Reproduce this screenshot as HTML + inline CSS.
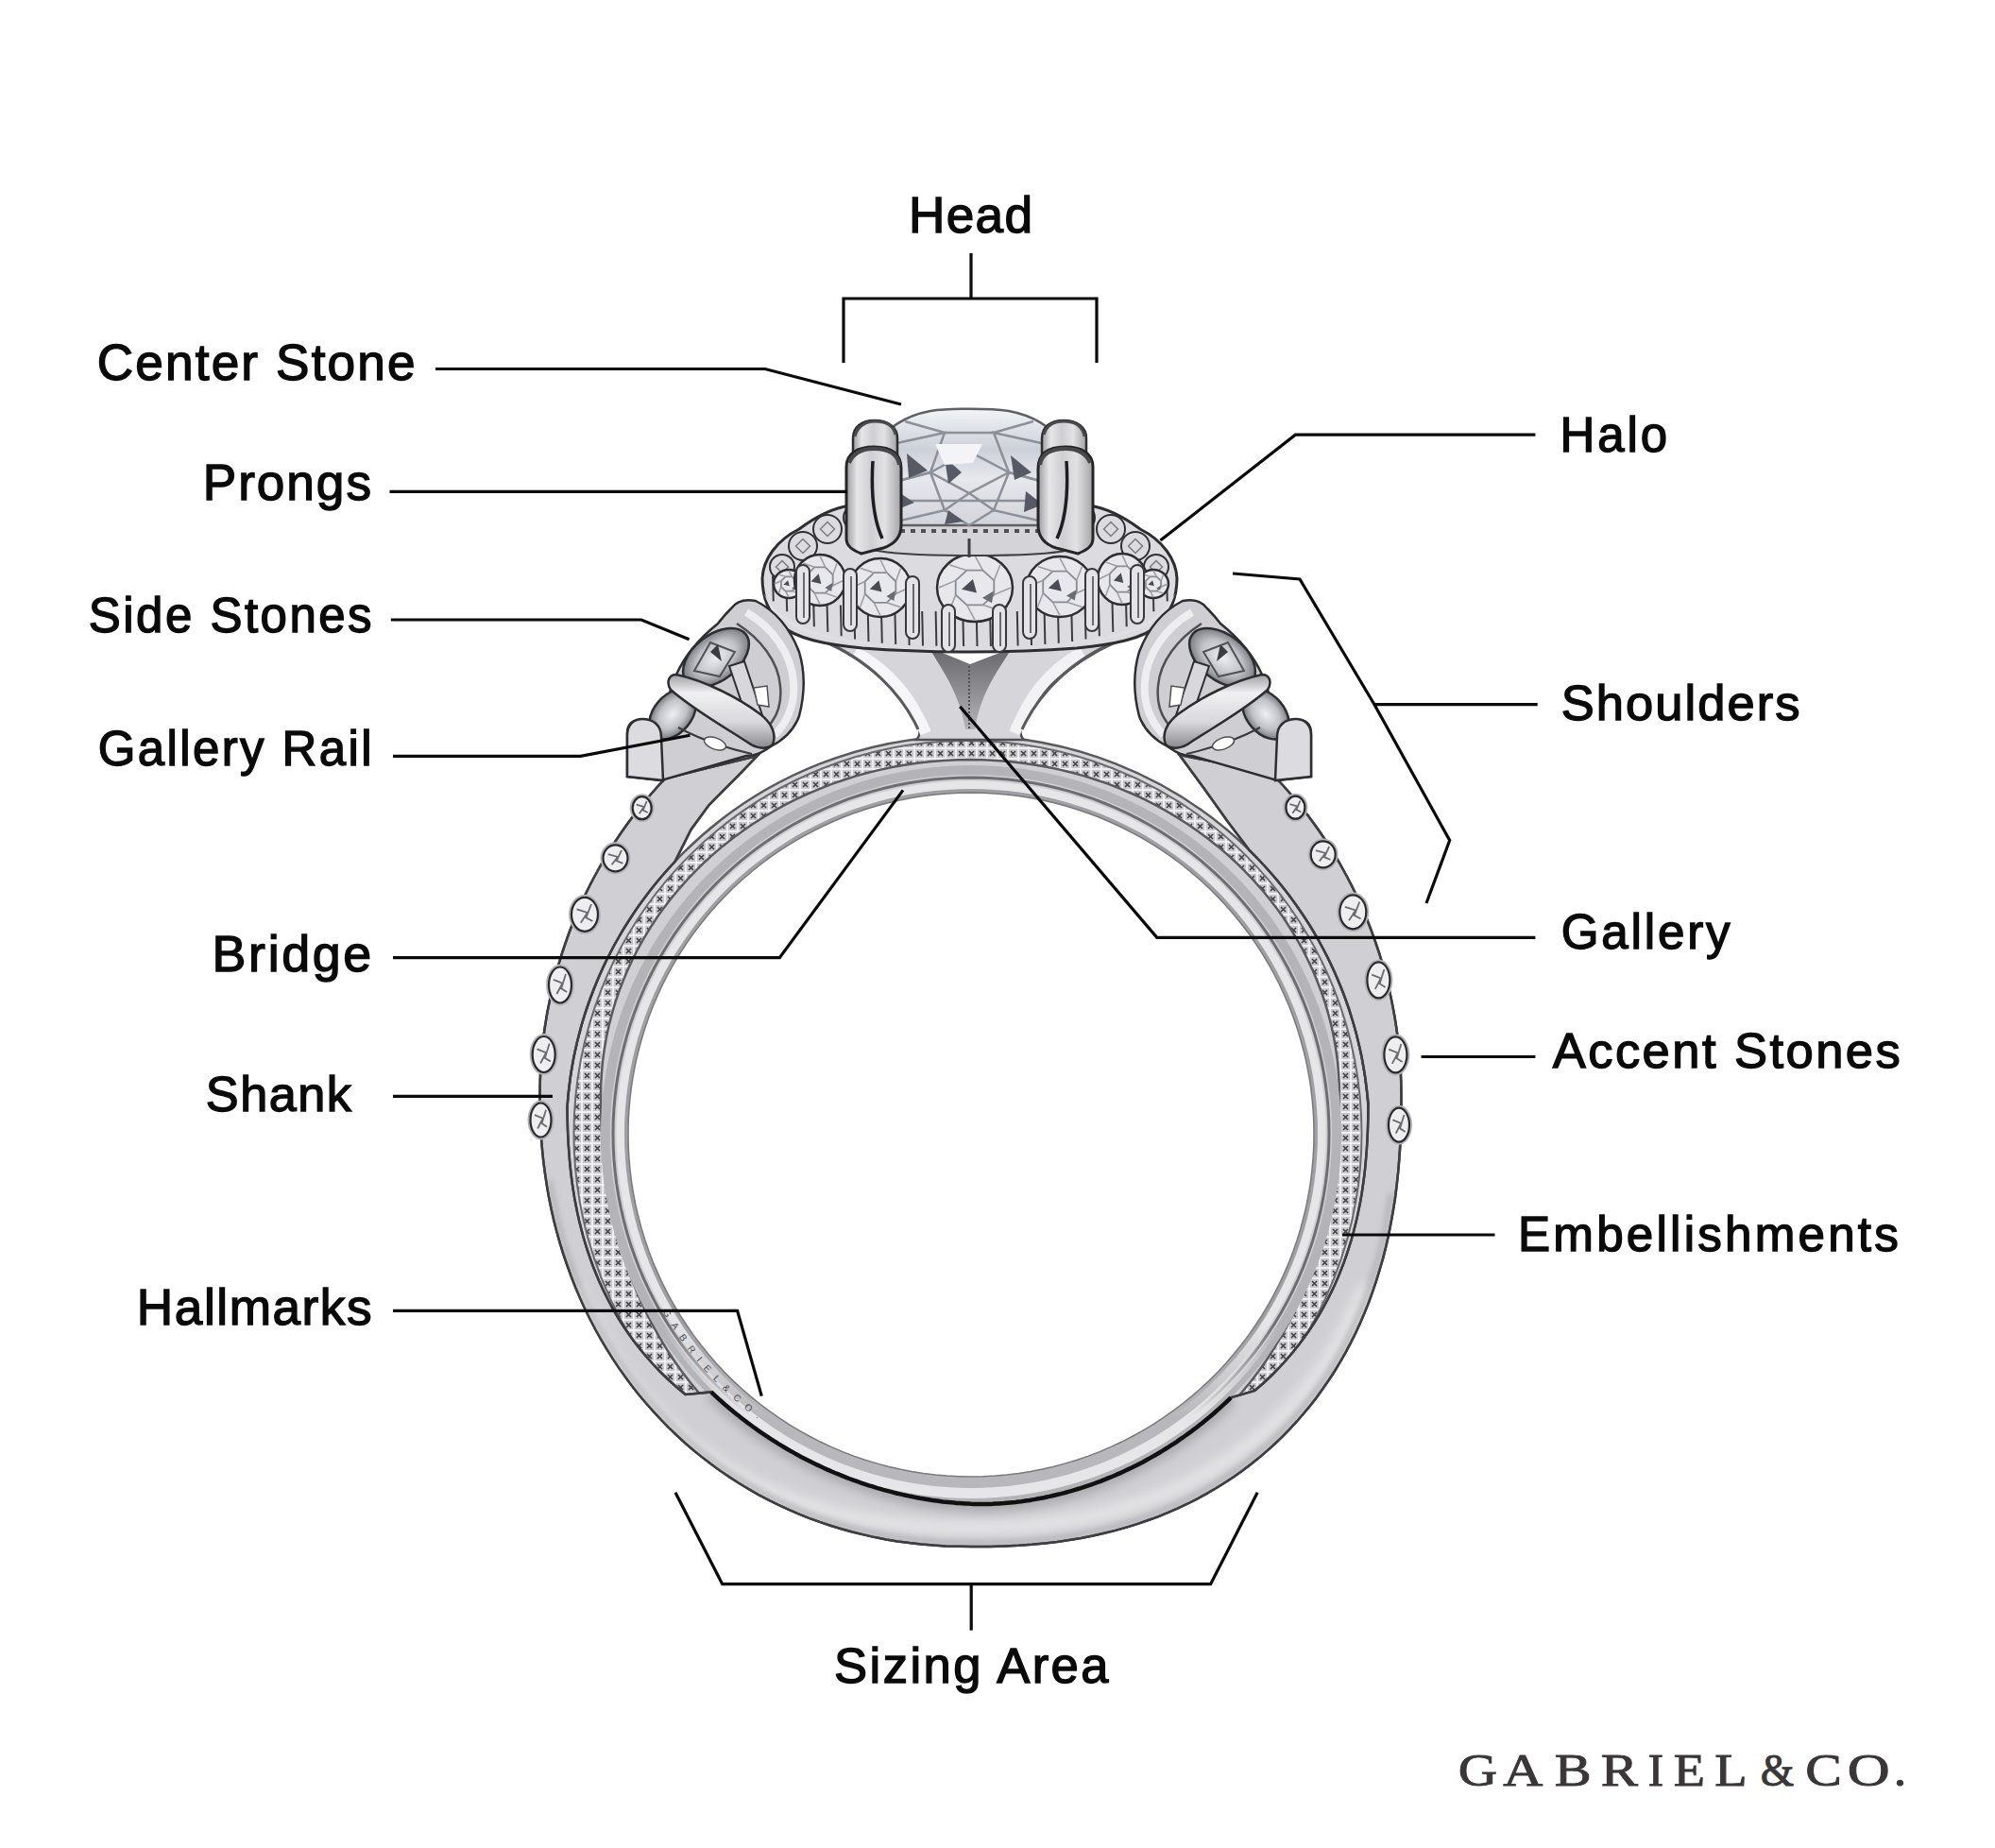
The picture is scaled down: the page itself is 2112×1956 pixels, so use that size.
<!DOCTYPE html><html><head><meta charset="utf-8"><style>html,body{margin:0;padding:0;background:#fff;}svg{display:block}.lab text{font-family:"Liberation Sans",sans-serif;} text.logo{font-family:"Liberation Serif",serif;}</style></head><body>
<svg width="2112" height="1956" viewBox="0 0 2112 1956">
<g id="ring"><defs>
<pattern id="milg" width="11" height="11" patternUnits="userSpaceOnUse"><rect width="11" height="11" fill="#e8e8ea"/><rect x="1" y="1" width="9" height="9" fill="#c8c8cc"/><path d="M3 3 L8 8 M8 3 L3 8" stroke="#3e3e42" stroke-width="1.5"/><rect x="0" y="0" width="11" height="11" fill="none" stroke="#f4f4f6" stroke-width="1"/></pattern>
<radialGradient id="gStone" cx="0.5" cy="0.45" r="0.6"><stop offset="0" stop-color="#f6f6f8"/><stop offset="0.55" stop-color="#d4d6dc"/><stop offset="1" stop-color="#707278"/></radialGradient>
<filter id="blur6" x="-20%" y="-20%" width="140%" height="140%"><feGaussianBlur stdDeviation="6"/></filter>
<filter id="blur3" x="-20%" y="-20%" width="140%" height="140%"><feGaussianBlur stdDeviation="3"/></filter>
</defs>
<path d="M599.5 1200.0 a425.0 421.0 0 1 0 850.0 0 a425.0 421.0 0 1 0 -850.0 0 Z" fill="#d6d6da" stroke="#5a5a5e" stroke-width="2.5"/>
<path d="M607.5 1200.0 a417.0 416.0 0 1 0 834.0 0 a417.0 416.0 0 1 0 -834.0 0 Z" fill="url(#milg)" stroke="#6a6a6e" stroke-width="2"/>
<path d="M636.0 1160.0 L636.2 1147.6 L637.0 1135.2 L638.1 1122.8 L639.8 1110.5 L641.9 1098.2 L644.5 1086.0 L647.6 1073.9 L651.1 1061.9 L655.1 1050.0 L659.6 1038.2 L664.5 1026.6 L669.8 1015.2 L675.6 1003.9 L681.8 992.9 L688.4 982.0 L695.4 971.3 L702.8 960.9 L710.7 950.7 L718.9 940.8 L727.5 931.2 L736.4 921.8 L745.7 912.7 L755.4 903.9 L765.4 895.4 L775.7 887.3 L786.3 879.5 L797.2 872.0 L808.4 864.9 L819.8 858.1 L831.5 851.7 L843.4 845.7 L855.6 840.0 L868.0 834.8 L880.5 829.9 L893.3 825.5 L906.2 821.4 L919.2 817.8 L932.4 814.6 L945.7 811.8 L959.1 809.4 L972.6 807.5 L986.1 806.0 L999.7 804.9 L1013.4 804.2 L1027.0 804.0 L1040.6 804.2 L1054.3 804.9 L1067.9 806.0 L1081.4 807.5 L1094.9 809.4 L1108.3 811.8 L1121.6 814.6 L1134.8 817.8 L1147.8 821.4 L1160.7 825.5 L1173.5 829.9 L1186.0 834.8 L1198.4 840.0 L1210.6 845.7 L1222.5 851.7 L1234.2 858.1 L1245.6 864.9 L1256.8 872.0 L1267.7 879.5 L1278.3 887.3 L1288.6 895.4 L1298.6 903.9 L1308.3 912.7 L1317.6 921.8 L1326.5 931.2 L1335.1 940.8 L1343.3 950.7 L1351.2 960.9 L1358.6 971.3 L1365.6 982.0 L1372.2 992.9 L1378.4 1003.9 L1384.2 1015.2 L1389.5 1026.6 L1394.4 1038.2 L1398.9 1050.0 L1402.9 1061.9 L1406.4 1073.9 L1409.5 1086.0 L1412.1 1098.2 L1414.2 1110.5 L1415.9 1122.8 L1417.0 1135.2 L1417.8 1147.6 L1418.0 1160.0 L1418.0 1160.0 L1417.8 1179.4 L1417.1 1197.0 L1416.0 1213.8 L1414.5 1230.3 L1412.5 1246.3 L1410.0 1262.1 L1407.2 1277.5 L1403.9 1292.7 L1400.2 1307.6 L1396.0 1322.2 L1391.4 1336.5 L1386.5 1350.6 L1381.1 1364.3 L1375.2 1377.8 L1369.0 1390.9 L1362.4 1403.7 L1355.4 1416.2 L1348.0 1428.4 L1340.3 1440.2 L1332.1 1451.7 L1323.7 1462.8 L1314.8 1473.5 L1305.6 1483.9 L1296.1 1493.8 L1286.2 1503.4 L1276.0 1512.5 L1265.5 1521.3 L1254.7 1529.6 L1243.6 1537.5 L1232.2 1544.9 L1220.5 1551.9 L1208.6 1558.4 L1196.3 1564.5 L1183.9 1570.1 L1171.1 1575.3 L1158.1 1579.9 L1144.9 1584.1 L1131.4 1587.8 L1117.7 1591.0 L1103.7 1593.8 L1089.4 1596.0 L1074.8 1597.8 L1059.8 1599.0 L1044.2 1599.8 L1027.0 1600.0 L1009.8 1599.8 L994.2 1599.0 L979.2 1597.8 L964.6 1596.0 L950.3 1593.8 L936.3 1591.0 L922.6 1587.8 L909.1 1584.1 L895.9 1579.9 L882.9 1575.3 L870.1 1570.1 L857.7 1564.5 L845.4 1558.4 L833.5 1551.9 L821.8 1544.9 L810.4 1537.5 L799.3 1529.6 L788.5 1521.3 L778.0 1512.5 L767.8 1503.4 L757.9 1493.8 L748.4 1483.9 L739.2 1473.5 L730.3 1462.8 L721.9 1451.7 L713.7 1440.2 L706.0 1428.4 L698.6 1416.2 L691.6 1403.7 L685.0 1390.9 L678.8 1377.8 L672.9 1364.3 L667.5 1350.6 L662.6 1336.5 L658.0 1322.2 L653.8 1307.6 L650.1 1292.7 L646.8 1277.5 L644.0 1262.1 L641.5 1246.3 L639.5 1230.3 L638.0 1213.8 L636.9 1197.0 L636.2 1179.4 L636.0 1160.0 Z" fill="#d0d0d4" stroke="#5a5a5e" stroke-width="2.5"/>
<path d="M641.0 1200.0 L641.2 1186.6 L641.9 1173.1 L643.1 1159.8 L644.8 1146.4 L646.9 1133.1 L649.5 1120.0 L652.5 1106.9 L656.0 1093.9 L659.9 1081.0 L664.3 1068.3 L669.2 1055.8 L674.5 1043.4 L680.2 1031.2 L686.3 1019.3 L692.8 1007.5 L699.8 996.0 L707.2 984.7 L714.9 973.7 L723.0 963.0 L731.5 952.5 L740.4 942.4 L749.6 932.6 L759.2 923.1 L769.0 913.9 L779.2 905.1 L789.7 896.6 L800.5 888.5 L811.6 880.8 L822.9 873.5 L834.5 866.6 L846.3 860.1 L858.4 854.0 L870.6 848.3 L883.0 843.0 L895.6 838.2 L908.4 833.8 L921.3 829.9 L934.4 826.4 L947.5 823.4 L960.8 820.8 L974.1 818.7 L987.5 817.1 L1001.0 815.9 L1014.5 815.2 L1028.0 815.0 L1041.5 815.2 L1055.0 815.9 L1068.5 817.1 L1081.9 818.7 L1095.2 820.8 L1108.5 823.4 L1121.6 826.4 L1134.7 829.9 L1147.6 833.8 L1160.4 838.2 L1173.0 843.0 L1185.4 848.3 L1197.6 854.0 L1209.7 860.1 L1221.5 866.6 L1233.1 873.5 L1244.4 880.8 L1255.5 888.5 L1266.3 896.6 L1276.8 905.1 L1287.0 913.9 L1296.8 923.1 L1306.4 932.6 L1315.6 942.4 L1324.5 952.5 L1333.0 963.0 L1341.1 973.7 L1348.8 984.7 L1356.2 996.0 L1363.2 1007.5 L1369.7 1019.3 L1375.8 1031.2 L1381.5 1043.4 L1386.8 1055.8 L1391.7 1068.3 L1396.1 1081.0 L1400.0 1093.9 L1403.5 1106.9 L1406.5 1120.0 L1409.1 1133.1 L1411.2 1146.4 L1412.9 1159.8 L1414.1 1173.1 L1414.8 1186.6 L1415.0 1200.0 L1414.8 1213.5 L1414.1 1227.0 L1412.9 1240.5 L1411.2 1253.9 L1409.1 1267.2 L1406.5 1280.5 L1403.5 1293.6 L1400.0 1306.7 L1396.1 1319.6 L1391.7 1332.4 L1386.8 1345.0 L1381.5 1357.4 L1375.8 1369.6 L1369.7 1381.7 L1363.2 1393.5 L1356.2 1405.1 L1348.8 1416.4 L1341.1 1427.5 L1333.0 1438.3 L1324.5 1448.8 L1315.6 1459.0 L1306.4 1468.8 L1296.8 1478.4 L1287.0 1487.6 L1276.8 1496.5 L1266.3 1505.0 L1255.5 1513.1 L1244.4 1520.8 L1233.1 1528.2 L1221.5 1535.2 L1209.7 1541.7 L1197.6 1547.8 L1185.4 1553.5 L1173.0 1558.8 L1160.4 1563.7 L1147.6 1568.1 L1134.7 1572.0 L1121.6 1575.5 L1108.5 1578.5 L1095.2 1581.1 L1081.9 1583.2 L1068.5 1584.9 L1055.0 1586.1 L1041.5 1586.8 L1028.0 1587.0 L1014.5 1586.8 L1001.0 1586.1 L987.5 1584.9 L974.1 1583.2 L960.8 1581.1 L947.5 1578.5 L934.4 1575.5 L921.3 1572.0 L908.4 1568.1 L895.6 1563.7 L883.0 1558.8 L870.6 1553.5 L858.4 1547.8 L846.3 1541.7 L834.5 1535.2 L822.9 1528.2 L811.6 1520.8 L800.5 1513.1 L789.7 1505.0 L779.2 1496.5 L769.0 1487.6 L759.2 1478.4 L749.6 1468.8 L740.4 1459.0 L731.5 1448.8 L723.0 1438.3 L714.9 1427.5 L707.2 1416.4 L699.8 1405.1 L692.8 1393.5 L686.3 1381.7 L680.2 1369.6 L674.5 1357.4 L669.2 1345.0 L664.3 1332.4 L659.9 1319.6 L656.0 1306.7 L652.5 1293.6 L649.5 1280.5 L646.9 1267.2 L644.8 1253.9 L643.1 1240.5 L641.9 1227.0 L641.2 1213.5 Z" fill="none" stroke="#b4b4b8" stroke-width="10"/>
<path d="M649.0 1200.0 L649.2 1186.8 L649.9 1173.7 L651.1 1160.6 L652.7 1147.5 L654.8 1134.5 L657.3 1121.6 L660.3 1108.8 L663.7 1096.1 L667.5 1083.5 L671.9 1071.1 L676.6 1058.8 L681.8 1046.7 L687.4 1034.7 L693.4 1023.0 L699.8 1011.5 L706.6 1000.2 L713.8 989.2 L721.4 978.4 L729.3 967.9 L737.7 957.7 L746.3 947.7 L755.4 938.1 L764.7 928.8 L774.4 919.8 L784.4 911.2 L794.7 902.9 L805.2 895.0 L816.1 887.5 L827.2 880.3 L838.5 873.5 L850.1 867.1 L861.9 861.2 L873.8 855.6 L886.0 850.5 L898.4 845.7 L910.9 841.5 L923.5 837.6 L936.3 834.2 L949.2 831.2 L962.2 828.7 L975.3 826.7 L988.4 825.1 L1001.6 823.9 L1014.8 823.2 L1028.0 823.0 L1041.2 823.2 L1054.4 823.9 L1067.6 825.1 L1080.7 826.7 L1093.8 828.7 L1106.8 831.2 L1119.7 834.2 L1132.5 837.6 L1145.1 841.5 L1157.6 845.7 L1170.0 850.5 L1182.2 855.6 L1194.1 861.2 L1205.9 867.1 L1217.5 873.5 L1228.8 880.3 L1239.9 887.5 L1250.8 895.0 L1261.3 902.9 L1271.6 911.2 L1281.6 919.8 L1291.3 928.8 L1300.6 938.1 L1309.7 947.7 L1318.3 957.7 L1326.7 967.9 L1334.6 978.4 L1342.2 989.2 L1349.4 1000.2 L1356.2 1011.5 L1362.6 1023.0 L1368.6 1034.7 L1374.2 1046.7 L1379.4 1058.8 L1384.1 1071.1 L1388.5 1083.5 L1392.3 1096.1 L1395.7 1108.8 L1398.7 1121.6 L1401.2 1134.5 L1403.3 1147.5 L1404.9 1160.6 L1406.1 1173.7 L1406.8 1186.8 L1407.0 1200.0 L1406.8 1213.2 L1406.1 1226.4 L1404.9 1239.6 L1403.3 1252.7 L1401.2 1265.8 L1398.7 1278.8 L1395.7 1291.7 L1392.3 1304.5 L1388.5 1317.1 L1384.1 1329.6 L1379.4 1342.0 L1374.2 1354.2 L1368.6 1366.1 L1362.6 1377.9 L1356.2 1389.5 L1349.4 1400.8 L1342.2 1411.9 L1334.6 1422.8 L1326.7 1433.3 L1318.3 1443.6 L1309.7 1453.6 L1300.6 1463.3 L1291.3 1472.6 L1281.6 1481.7 L1271.6 1490.3 L1261.3 1498.7 L1250.8 1506.6 L1239.9 1514.2 L1228.8 1521.4 L1217.5 1528.2 L1205.9 1534.6 L1194.1 1540.6 L1182.2 1546.2 L1170.0 1551.4 L1157.6 1556.1 L1145.1 1560.5 L1132.5 1564.3 L1119.7 1567.7 L1106.8 1570.7 L1093.8 1573.2 L1080.7 1575.3 L1067.6 1576.9 L1054.4 1578.1 L1041.2 1578.8 L1028.0 1579.0 L1014.8 1578.8 L1001.6 1578.1 L988.4 1576.9 L975.3 1575.3 L962.2 1573.2 L949.2 1570.7 L936.3 1567.7 L923.5 1564.3 L910.9 1560.5 L898.4 1556.1 L886.0 1551.4 L873.8 1546.2 L861.9 1540.6 L850.1 1534.6 L838.5 1528.2 L827.2 1521.4 L816.1 1514.2 L805.2 1506.6 L794.7 1498.7 L784.4 1490.3 L774.4 1481.7 L764.7 1472.6 L755.4 1463.3 L746.3 1453.6 L737.7 1443.6 L729.3 1433.3 L721.4 1422.8 L713.8 1411.9 L706.6 1400.8 L699.8 1389.5 L693.4 1377.9 L687.4 1366.1 L681.8 1354.2 L676.6 1342.0 L671.9 1329.6 L667.5 1317.1 L663.7 1304.5 L660.3 1291.7 L657.3 1278.8 L654.8 1265.8 L652.7 1252.7 L651.1 1239.6 L649.9 1226.4 L649.2 1213.2 Z" fill="none" stroke="#6e6e72" stroke-width="3"/>
<path d="M657.0 1200.0 L657.2 1187.1 L657.9 1174.3 L659.0 1161.4 L660.6 1148.6 L662.6 1135.9 L665.1 1123.3 L668.0 1110.7 L671.4 1098.3 L675.2 1086.0 L679.4 1073.8 L684.0 1061.8 L689.1 1049.9 L694.5 1038.2 L700.4 1026.8 L706.7 1015.5 L713.4 1004.5 L720.4 993.7 L727.9 983.1 L735.6 972.8 L743.8 962.8 L752.3 953.1 L761.1 943.7 L770.3 934.6 L779.8 925.8 L789.5 917.3 L799.6 909.2 L809.9 901.5 L820.5 894.1 L831.4 887.1 L842.5 880.4 L853.8 874.2 L865.4 868.3 L877.1 862.9 L889.0 857.9 L901.1 853.3 L913.4 849.1 L925.7 845.3 L938.2 842.0 L950.9 839.1 L963.6 836.6 L976.4 834.6 L989.2 833.0 L1002.1 831.9 L1015.1 831.2 L1028.0 831.0 L1040.9 831.2 L1053.9 831.9 L1066.8 833.0 L1079.6 834.6 L1092.4 836.6 L1105.1 839.1 L1117.8 842.0 L1130.3 845.3 L1142.6 849.1 L1154.9 853.3 L1167.0 857.9 L1178.9 862.9 L1190.6 868.3 L1202.2 874.2 L1213.5 880.4 L1224.6 887.1 L1235.5 894.1 L1246.1 901.5 L1256.4 909.2 L1266.5 917.3 L1276.2 925.8 L1285.7 934.6 L1294.9 943.7 L1303.7 953.1 L1312.2 962.8 L1320.4 972.8 L1328.1 983.1 L1335.6 993.7 L1342.6 1004.5 L1349.3 1015.5 L1355.6 1026.8 L1361.5 1038.2 L1366.9 1049.9 L1372.0 1061.8 L1376.6 1073.8 L1380.8 1086.0 L1384.6 1098.3 L1388.0 1110.7 L1390.9 1123.3 L1393.4 1135.9 L1395.4 1148.6 L1397.0 1161.4 L1398.1 1174.3 L1398.8 1187.1 L1399.0 1200.0 L1398.8 1212.9 L1398.1 1225.9 L1397.0 1238.8 L1395.4 1251.6 L1393.4 1264.4 L1390.9 1277.1 L1388.0 1289.8 L1384.6 1302.3 L1380.8 1314.6 L1376.6 1326.9 L1372.0 1339.0 L1366.9 1350.9 L1361.5 1362.6 L1355.6 1374.2 L1349.3 1385.5 L1342.6 1396.6 L1335.6 1407.5 L1328.1 1418.1 L1320.4 1428.4 L1312.2 1438.5 L1303.7 1448.2 L1294.9 1457.7 L1285.7 1466.9 L1276.2 1475.7 L1266.5 1484.2 L1256.4 1492.4 L1246.1 1500.1 L1235.5 1507.6 L1224.6 1514.6 L1213.5 1521.3 L1202.2 1527.6 L1190.6 1533.5 L1178.9 1538.9 L1167.0 1544.0 L1154.9 1548.6 L1142.6 1552.8 L1130.3 1556.6 L1117.8 1560.0 L1105.1 1562.9 L1092.4 1565.4 L1079.6 1567.4 L1066.8 1569.0 L1053.9 1570.1 L1040.9 1570.8 L1028.0 1571.0 L1015.1 1570.8 L1002.1 1570.1 L989.2 1569.0 L976.4 1567.4 L963.6 1565.4 L950.9 1562.9 L938.2 1560.0 L925.7 1556.6 L913.4 1552.8 L901.1 1548.6 L889.0 1544.0 L877.1 1538.9 L865.4 1533.5 L853.8 1527.6 L842.5 1521.3 L831.4 1514.6 L820.5 1507.6 L809.9 1500.1 L799.6 1492.4 L789.5 1484.2 L779.8 1475.7 L770.3 1466.9 L761.1 1457.7 L752.3 1448.2 L743.8 1438.5 L735.6 1428.4 L727.9 1418.1 L720.4 1407.5 L713.4 1396.6 L706.7 1385.5 L700.4 1374.2 L694.5 1362.6 L689.1 1350.9 L684.0 1339.0 L679.4 1326.9 L675.2 1314.6 L671.4 1302.3 L668.0 1289.8 L665.1 1277.1 L662.6 1264.4 L660.6 1251.6 L659.0 1238.8 L657.9 1225.9 L657.2 1212.9 Z" fill="none" stroke="#e6e6e8" stroke-width="9"/>
<path d="M663.0 1200.0 L663.2 1187.3 L663.9 1174.7 L665.0 1162.1 L666.6 1149.5 L668.5 1137.0 L671.0 1124.5 L673.8 1112.2 L677.1 1099.9 L680.9 1087.8 L685.0 1075.8 L689.6 1064.0 L694.6 1052.4 L699.9 1040.9 L705.7 1029.6 L711.9 1018.5 L718.5 1007.6 L725.4 997.0 L732.7 986.6 L740.4 976.5 L748.4 966.7 L756.8 957.1 L765.4 947.8 L774.4 938.9 L783.8 930.2 L793.4 921.9 L803.3 914.0 L813.5 906.3 L823.9 899.1 L834.6 892.2 L845.5 885.6 L856.6 879.5 L868.0 873.7 L879.5 868.4 L891.3 863.4 L903.2 858.9 L915.2 854.8 L927.4 851.1 L939.7 847.8 L952.1 844.9 L964.6 842.5 L977.2 840.5 L989.8 839.0 L1002.5 837.9 L1015.3 837.2 L1028.0 837.0 L1040.7 837.2 L1053.5 837.9 L1066.2 839.0 L1078.8 840.5 L1091.4 842.5 L1103.9 844.9 L1116.3 847.8 L1128.6 851.1 L1140.8 854.8 L1152.8 858.9 L1164.7 863.4 L1176.5 868.4 L1188.0 873.7 L1199.4 879.5 L1210.5 885.6 L1221.4 892.2 L1232.1 899.1 L1242.5 906.3 L1252.7 914.0 L1262.6 921.9 L1272.2 930.2 L1281.6 938.9 L1290.6 947.8 L1299.2 957.1 L1307.6 966.7 L1315.6 976.5 L1323.3 986.6 L1330.6 997.0 L1337.5 1007.6 L1344.1 1018.5 L1350.3 1029.6 L1356.1 1040.9 L1361.4 1052.4 L1366.4 1064.0 L1371.0 1075.8 L1375.1 1087.8 L1378.9 1099.9 L1382.2 1112.2 L1385.0 1124.5 L1387.5 1137.0 L1389.4 1149.5 L1391.0 1162.1 L1392.1 1174.7 L1392.8 1187.3 L1393.0 1200.0 L1392.8 1212.7 L1392.1 1225.5 L1391.0 1238.2 L1389.4 1250.8 L1387.5 1263.4 L1385.0 1275.9 L1382.2 1288.3 L1378.9 1300.6 L1375.1 1312.8 L1371.0 1324.8 L1366.4 1336.7 L1361.4 1348.5 L1356.1 1360.0 L1350.3 1371.4 L1344.1 1382.5 L1337.5 1393.4 L1330.6 1404.1 L1323.3 1414.5 L1315.6 1424.7 L1307.6 1434.6 L1299.2 1444.2 L1290.6 1453.6 L1281.6 1462.6 L1272.2 1471.2 L1262.6 1479.6 L1252.7 1487.6 L1242.5 1495.3 L1232.1 1502.6 L1221.4 1509.5 L1210.5 1516.1 L1199.4 1522.3 L1188.0 1528.1 L1176.5 1533.4 L1164.7 1538.4 L1152.8 1543.0 L1140.8 1547.1 L1128.6 1550.9 L1116.3 1554.2 L1103.9 1557.0 L1091.4 1559.5 L1078.8 1561.4 L1066.2 1563.0 L1053.5 1564.1 L1040.7 1564.8 L1028.0 1565.0 L1015.3 1564.8 L1002.5 1564.1 L989.8 1563.0 L977.2 1561.4 L964.6 1559.5 L952.1 1557.0 L939.7 1554.2 L927.4 1550.9 L915.2 1547.1 L903.2 1543.0 L891.3 1538.4 L879.5 1533.4 L868.0 1528.1 L856.6 1522.3 L845.5 1516.1 L834.6 1509.5 L823.9 1502.6 L813.5 1495.3 L803.3 1487.6 L793.4 1479.6 L783.8 1471.2 L774.4 1462.6 L765.4 1453.6 L756.8 1444.2 L748.4 1434.6 L740.4 1424.7 L732.7 1414.5 L725.4 1404.1 L718.5 1393.4 L711.9 1382.5 L705.7 1371.4 L699.9 1360.0 L694.6 1348.5 L689.6 1336.7 L685.0 1324.8 L680.9 1312.8 L677.1 1300.6 L673.8 1288.3 L671.0 1275.9 L668.5 1263.4 L666.6 1250.8 L665.0 1238.2 L663.9 1225.5 L663.2 1212.7 Z" fill="none" stroke="#a0a0a4" stroke-width="4"/>
<linearGradient id="gBotM" x1="0" y1="1400" x2="0" y2="1500" gradientUnits="userSpaceOnUse"><stop offset="0" stop-color="#000"/><stop offset="1" stop-color="#fff"/></linearGradient>
<mask id="mBot" maskUnits="userSpaceOnUse" x="0" y="0" width="2112" height="1956"><rect x="0" y="1380" width="2112" height="400" fill="url(#gBotM)"/></mask>
<g mask="url(#mBot)">
<path d="M648.0 1200.0 L648.2 1186.8 L648.9 1173.6 L650.1 1160.5 L651.7 1147.4 L653.8 1134.4 L656.3 1121.4 L659.3 1108.6 L662.7 1095.8 L666.6 1083.2 L670.9 1070.7 L675.7 1058.4 L680.9 1046.3 L686.5 1034.3 L692.5 1022.5 L698.9 1011.0 L705.7 999.7 L713.0 988.6 L720.6 977.8 L728.6 967.3 L736.9 957.0 L745.6 947.1 L754.7 937.4 L764.0 928.1 L773.7 919.1 L783.7 910.4 L794.0 902.1 L804.6 894.2 L815.5 886.6 L826.6 879.4 L838.0 872.6 L849.6 866.2 L861.4 860.3 L873.4 854.7 L885.6 849.5 L898.0 844.8 L910.6 840.5 L923.3 836.6 L936.1 833.2 L949.0 830.3 L962.0 827.7 L975.1 825.7 L988.3 824.1 L1001.5 822.9 L1014.7 822.2 L1028.0 822.0 L1041.3 822.2 L1054.5 822.9 L1067.7 824.1 L1080.9 825.7 L1094.0 827.7 L1107.0 830.3 L1119.9 833.2 L1132.7 836.6 L1145.4 840.5 L1158.0 844.8 L1170.4 849.5 L1182.6 854.7 L1194.6 860.3 L1206.4 866.2 L1218.0 872.6 L1229.4 879.4 L1240.5 886.6 L1251.4 894.2 L1262.0 902.1 L1272.3 910.4 L1282.3 919.1 L1292.0 928.1 L1301.3 937.4 L1310.4 947.1 L1319.1 957.0 L1327.4 967.3 L1335.4 977.8 L1343.0 988.6 L1350.3 999.7 L1357.1 1011.0 L1363.5 1022.5 L1369.5 1034.3 L1375.1 1046.3 L1380.3 1058.4 L1385.1 1070.7 L1389.4 1083.2 L1393.3 1095.8 L1396.7 1108.6 L1399.7 1121.4 L1402.2 1134.4 L1404.3 1147.4 L1405.9 1160.5 L1407.1 1173.6 L1407.8 1186.8 L1408.0 1200.0 L1407.8 1213.3 L1407.1 1226.5 L1405.9 1239.7 L1404.3 1252.9 L1402.2 1266.0 L1399.7 1279.0 L1396.7 1291.9 L1393.3 1304.7 L1389.4 1317.4 L1385.1 1330.0 L1380.3 1342.4 L1375.1 1354.6 L1369.5 1366.6 L1363.5 1378.4 L1357.1 1390.0 L1350.3 1401.4 L1343.0 1412.5 L1335.4 1423.4 L1327.4 1434.0 L1319.1 1444.3 L1310.4 1454.3 L1301.3 1464.0 L1292.0 1473.3 L1282.3 1482.4 L1272.3 1491.1 L1262.0 1499.4 L1251.4 1507.4 L1240.5 1515.0 L1229.4 1522.3 L1218.0 1529.1 L1206.4 1535.5 L1194.6 1541.5 L1182.6 1547.1 L1170.4 1552.3 L1158.0 1557.1 L1145.4 1561.4 L1132.7 1565.3 L1119.9 1568.7 L1107.0 1571.7 L1094.0 1574.2 L1080.9 1576.3 L1067.7 1577.9 L1054.5 1579.1 L1041.3 1579.8 L1028.0 1580.0 L1014.7 1579.8 L1001.5 1579.1 L988.3 1577.9 L975.1 1576.3 L962.0 1574.2 L949.0 1571.7 L936.1 1568.7 L923.3 1565.3 L910.6 1561.4 L898.0 1557.1 L885.6 1552.3 L873.4 1547.1 L861.4 1541.5 L849.6 1535.5 L838.0 1529.1 L826.6 1522.3 L815.5 1515.0 L804.6 1507.4 L794.0 1499.4 L783.7 1491.1 L773.7 1482.4 L764.0 1473.3 L754.7 1464.0 L745.6 1454.3 L736.9 1444.3 L728.6 1434.0 L720.6 1423.4 L713.0 1412.5 L705.7 1401.4 L698.9 1390.0 L692.5 1378.4 L686.5 1366.6 L680.9 1354.6 L675.7 1342.4 L670.9 1330.0 L666.6 1317.4 L662.7 1304.7 L659.3 1291.9 L656.3 1279.0 L653.8 1266.0 L651.7 1252.9 L650.1 1239.7 L648.9 1226.5 L648.2 1213.3 Z" fill="none" stroke="#e6e6e8" stroke-width="12"/>
<path d="M659.0 1200.0 L659.2 1187.2 L659.9 1174.4 L661.0 1161.6 L662.6 1148.9 L664.6 1136.3 L667.1 1123.7 L670.0 1111.2 L673.3 1098.8 L677.1 1086.6 L681.3 1074.5 L685.9 1062.5 L690.9 1050.7 L696.3 1039.1 L702.2 1027.7 L708.4 1016.5 L715.1 1005.5 L722.1 994.8 L729.5 984.3 L737.2 974.1 L745.3 964.1 L753.8 954.4 L762.6 945.1 L771.7 936.0 L781.1 927.3 L790.8 918.9 L800.8 910.8 L811.1 903.1 L821.7 895.7 L832.5 888.8 L843.5 882.2 L854.8 876.0 L866.2 870.1 L877.9 864.7 L889.8 859.7 L901.8 855.1 L914.0 851.0 L926.3 847.2 L938.7 843.9 L951.3 841.0 L963.9 838.6 L976.6 836.6 L989.4 835.0 L1002.3 833.9 L1015.1 833.2 L1028.0 833.0 L1040.9 833.2 L1053.7 833.9 L1066.6 835.0 L1079.4 836.6 L1092.1 838.6 L1104.7 841.0 L1117.3 843.9 L1129.7 847.2 L1142.0 851.0 L1154.2 855.1 L1166.2 859.7 L1178.1 864.7 L1189.8 870.1 L1201.2 876.0 L1212.5 882.2 L1223.5 888.8 L1234.3 895.7 L1244.9 903.1 L1255.2 910.8 L1265.2 918.9 L1274.9 927.3 L1284.3 936.0 L1293.4 945.1 L1302.2 954.4 L1310.7 964.1 L1318.8 974.1 L1326.5 984.3 L1333.9 994.8 L1340.9 1005.5 L1347.6 1016.5 L1353.8 1027.7 L1359.7 1039.1 L1365.1 1050.7 L1370.1 1062.5 L1374.7 1074.5 L1378.9 1086.6 L1382.7 1098.8 L1386.0 1111.2 L1388.9 1123.7 L1391.4 1136.3 L1393.4 1148.9 L1395.0 1161.6 L1396.1 1174.4 L1396.8 1187.2 L1397.0 1200.0 L1396.8 1212.9 L1396.1 1225.7 L1395.0 1238.6 L1393.4 1251.4 L1391.4 1264.1 L1388.9 1276.7 L1386.0 1289.3 L1382.7 1301.7 L1378.9 1314.0 L1374.7 1326.2 L1370.1 1338.2 L1365.1 1350.1 L1359.7 1361.8 L1353.8 1373.2 L1347.6 1384.5 L1340.9 1395.5 L1333.9 1406.3 L1326.5 1416.9 L1318.8 1427.2 L1310.7 1437.2 L1302.2 1446.9 L1293.4 1456.3 L1284.3 1465.4 L1274.9 1474.2 L1265.2 1482.7 L1255.2 1490.8 L1244.9 1498.5 L1234.3 1505.9 L1223.5 1512.9 L1212.5 1519.6 L1201.2 1525.8 L1189.8 1531.7 L1178.1 1537.1 L1166.2 1542.1 L1154.2 1546.7 L1142.0 1550.9 L1129.7 1554.7 L1117.3 1558.0 L1104.7 1560.9 L1092.1 1563.4 L1079.4 1565.4 L1066.6 1567.0 L1053.7 1568.1 L1040.9 1568.8 L1028.0 1569.0 L1015.1 1568.8 L1002.3 1568.1 L989.4 1567.0 L976.6 1565.4 L963.9 1563.4 L951.3 1560.9 L938.7 1558.0 L926.3 1554.7 L914.0 1550.9 L901.8 1546.7 L889.8 1542.1 L877.9 1537.1 L866.2 1531.7 L854.8 1525.8 L843.5 1519.6 L832.5 1512.9 L821.7 1505.9 L811.1 1498.5 L800.8 1490.8 L790.8 1482.7 L781.1 1474.2 L771.7 1465.4 L762.6 1456.3 L753.8 1446.9 L745.3 1437.2 L737.2 1427.2 L729.5 1416.9 L722.1 1406.3 L715.1 1395.5 L708.4 1384.5 L702.2 1373.2 L696.3 1361.8 L690.9 1350.1 L685.9 1338.2 L681.3 1326.2 L677.1 1314.0 L673.3 1301.7 L670.0 1289.3 L667.1 1276.7 L664.6 1264.1 L662.6 1251.4 L661.0 1238.6 L659.9 1225.7 L659.2 1212.9 Z" fill="none" stroke="#b8b8bc" stroke-width="12"/>
</g>
<path d="M665.0 1200.0 L665.2 1187.4 L665.9 1174.8 L667.0 1162.3 L668.5 1149.8 L670.5 1137.3 L672.9 1124.9 L675.8 1112.7 L679.1 1100.5 L682.8 1088.4 L686.9 1076.5 L691.4 1064.8 L696.4 1053.2 L701.7 1041.7 L707.5 1030.5 L713.6 1019.5 L720.2 1008.7 L727.1 998.1 L734.3 987.8 L742.0 977.7 L749.9 968.0 L758.2 958.4 L766.9 949.2 L775.8 940.3 L785.1 931.7 L794.7 923.5 L804.5 915.5 L814.6 907.9 L825.0 900.7 L835.6 893.9 L846.5 887.4 L857.6 881.3 L868.9 875.5 L880.4 870.2 L892.0 865.3 L903.8 860.8 L915.8 856.7 L927.9 853.0 L940.2 849.7 L952.5 846.9 L965.0 844.5 L977.5 842.5 L990.1 841.0 L1002.7 839.9 L1015.3 839.2 L1028.0 839.0 L1040.7 839.2 L1053.3 839.9 L1065.9 841.0 L1078.5 842.5 L1091.0 844.5 L1103.5 846.9 L1115.8 849.7 L1128.1 853.0 L1140.2 856.7 L1152.2 860.8 L1164.0 865.3 L1175.6 870.2 L1187.1 875.5 L1198.4 881.3 L1209.5 887.4 L1220.4 893.9 L1231.0 900.7 L1241.4 907.9 L1251.5 915.5 L1261.3 923.5 L1270.9 931.7 L1280.2 940.3 L1289.1 949.2 L1297.8 958.4 L1306.1 968.0 L1314.0 977.7 L1321.7 987.8 L1328.9 998.1 L1335.8 1008.7 L1342.4 1019.5 L1348.5 1030.5 L1354.3 1041.7 L1359.6 1053.2 L1364.6 1064.8 L1369.1 1076.5 L1373.2 1088.4 L1376.9 1100.5 L1380.2 1112.7 L1383.1 1124.9 L1385.5 1137.3 L1387.5 1149.8 L1389.0 1162.3 L1390.1 1174.8 L1390.8 1187.4 L1391.0 1200.0 L1390.8 1212.7 L1390.1 1225.3 L1389.0 1237.9 L1387.5 1250.5 L1385.5 1263.0 L1383.1 1275.5 L1380.2 1287.8 L1376.9 1300.1 L1373.2 1312.2 L1369.1 1324.2 L1364.6 1336.0 L1359.6 1347.6 L1354.3 1359.1 L1348.5 1370.4 L1342.4 1381.5 L1335.8 1392.4 L1328.9 1403.0 L1321.7 1413.4 L1314.0 1423.5 L1306.1 1433.3 L1297.8 1442.9 L1289.1 1452.2 L1280.2 1461.1 L1270.9 1469.8 L1261.3 1478.1 L1251.5 1486.0 L1241.4 1493.7 L1231.0 1500.9 L1220.4 1507.8 L1209.5 1514.4 L1198.4 1520.5 L1187.1 1526.3 L1175.6 1531.6 L1164.0 1536.6 L1152.2 1541.1 L1140.2 1545.2 L1128.1 1548.9 L1115.8 1552.2 L1103.5 1555.1 L1091.0 1557.5 L1078.5 1559.5 L1065.9 1561.0 L1053.3 1562.1 L1040.7 1562.8 L1028.0 1563.0 L1015.3 1562.8 L1002.7 1562.1 L990.1 1561.0 L977.5 1559.5 L965.0 1557.5 L952.5 1555.1 L940.2 1552.2 L927.9 1548.9 L915.8 1545.2 L903.8 1541.1 L892.0 1536.6 L880.4 1531.6 L868.9 1526.3 L857.6 1520.5 L846.5 1514.4 L835.6 1507.8 L825.0 1500.9 L814.6 1493.7 L804.5 1486.0 L794.7 1478.1 L785.1 1469.8 L775.8 1461.1 L766.9 1452.2 L758.2 1442.9 L749.9 1433.3 L742.0 1423.5 L734.3 1413.4 L727.1 1403.0 L720.2 1392.4 L713.6 1381.5 L707.5 1370.4 L701.7 1359.1 L696.4 1347.6 L691.4 1336.0 L686.9 1324.2 L682.8 1312.2 L679.1 1300.1 L675.8 1287.8 L672.9 1275.5 L670.5 1263.0 L668.5 1250.5 L667.0 1237.9 L665.9 1225.3 L665.2 1212.7 Z" fill="#ffffff" stroke="#7a7a7e" stroke-width="1.5"/>
<path id="hmk" d="M701.5 1388.5 L704.8 1394.2 L708.3 1399.8 L711.8 1405.3 L715.5 1410.8 L719.2 1416.2 L723.0 1421.6 L726.9 1426.9 L730.9 1432.1 L735.0 1437.3 L739.2 1442.3 L743.5 1447.3 L747.8 1452.3 L752.3 1457.1 L756.8 1461.9 L761.4 1466.6 L766.1 1471.2 L770.9 1475.7 L775.7 1480.2 L780.7 1484.5 L785.7 1488.8 L790.7 1493.0 L795.9 1497.1 L801.1 1501.1 L806.4 1505.0 L811.8 1508.8 L817.2 1512.5 L822.7 1516.2 L828.2 1519.7 L833.8 1523.2 L839.5 1526.5 L845.2 1529.7 L851.0 1532.9 L856.8 1535.9 L862.7 1538.8 L868.7 1541.7 L874.7 1544.4 L880.7 1547.0 L886.8 1549.5 L892.9 1552.0 L899.1 1554.3 L905.3 1556.5 L911.5 1558.5 L917.8 1560.5 L924.1 1562.4 L930.4 1564.2 L936.8 1565.8 L943.2 1567.3 L949.6 1568.8 L956.1 1570.1 L962.5 1571.3 L969.0 1572.4 L975.5 1573.3 L982.1 1574.2 L988.6 1574.9 L995.1 1575.6" fill="none"/>
<text font-family="Liberation Sans, sans-serif" font-size="10" fill="#4a4a4e" letter-spacing="8.5"><textPath href="#hmk">GABRIEL&amp;CO.</textPath></text>
<path d="M704.1 824.0 L696.7 832.0 L689.6 840.0 L682.8 848.0 L676.3 856.0 L670.1 864.0 L664.2 872.0 L658.5 880.0 L653.1 888.0 L647.9 896.0 L642.9 904.0 L638.1 912.0 L633.6 920.0 L629.2 928.0 L625.0 936.0 L621.0 944.0 L617.2 952.0 L613.6 960.0 L610.2 968.0 L606.9 976.0 L603.7 984.0 L600.8 992.0 L598.0 1000.0 L595.3 1008.0 L592.8 1016.0 L590.5 1024.0 L588.3 1032.0 L586.2 1040.0 L584.3 1048.0 L582.5 1056.0 L580.9 1064.0 L579.3 1072.0 L578.0 1080.0 L576.7 1088.0 L575.6 1096.0 L574.7 1104.0 L573.8 1112.0 L573.1 1120.0 L572.5 1128.0 L572.1 1136.0 L571.8 1144.0 L571.6 1152.0 L571.5 1160.0 L571.5 1160.0 L571.6 1174.9 L572.1 1188.7 L572.8 1202.2 L573.9 1215.5 L575.2 1228.6 L576.9 1241.5 L578.8 1254.3 L581.0 1266.9 L583.5 1279.3 L586.3 1291.7 L589.4 1303.8 L592.8 1315.9 L596.5 1327.8 L600.5 1339.5 L604.7 1351.1 L609.2 1362.5 L614.0 1373.8 L619.1 1384.9 L624.4 1395.8 L630.0 1406.5 L635.9 1417.1 L642.0 1427.4 L648.4 1437.6 L655.0 1447.6 L661.9 1457.3 L669.1 1466.9 L676.4 1476.2 L684.0 1485.3 L691.9 1494.2 L700.0 1502.9 L708.3 1511.3 L716.8 1519.5 L725.5 1527.5 L734.5 1535.2 L743.6 1542.6 L753.0 1549.8 L762.5 1556.7 L772.3 1563.4 L782.2 1569.8 L792.3 1575.9 L802.6 1581.8 L813.1 1587.4 L823.7 1592.6 L834.5 1597.6 L845.4 1602.4 L856.5 1606.8 L867.8 1610.9 L879.2 1614.7 L890.7 1618.3 L902.4 1621.5 L914.2 1624.4 L926.1 1627.1 L938.2 1629.4 L950.4 1631.4 L962.8 1633.1 L975.3 1634.5 L988.0 1635.6 L1001.0 1636.4 L1014.3 1636.8 L1028.5 1637.0 L1047.7 1636.9 L1063.5 1636.4 L1078.3 1635.7 L1092.4 1634.7 L1106.0 1633.4 L1119.2 1631.9 L1132.0 1630.0 L1144.6 1627.9 L1156.9 1625.5 L1169.0 1622.8 L1180.8 1619.9 L1192.4 1616.6 L1203.8 1613.1 L1214.9 1609.3 L1225.9 1605.3 L1236.6 1600.9 L1247.1 1596.3 L1257.5 1591.5 L1267.6 1586.3 L1277.5 1580.9 L1287.2 1575.3 L1296.8 1569.3 L1306.0 1563.2 L1315.1 1556.7 L1324.0 1550.0 L1332.7 1543.1 L1341.1 1535.9 L1349.3 1528.5 L1357.3 1520.8 L1365.1 1512.9 L1372.7 1504.7 L1380.0 1496.3 L1387.1 1487.7 L1393.9 1478.9 L1400.5 1469.8 L1406.9 1460.5 L1413.1 1451.0 L1419.0 1441.2 L1424.6 1431.3 L1430.0 1421.1 L1435.2 1410.7 L1440.1 1400.0 L1444.7 1389.2 L1449.1 1378.2 L1453.2 1366.9 L1457.1 1355.4 L1460.7 1343.7 L1464.1 1331.8 L1467.2 1319.6 L1470.0 1307.3 L1472.5 1294.6 L1474.8 1281.7 L1476.9 1268.5 L1478.6 1255.0 L1480.1 1241.2 L1481.3 1226.9 L1482.3 1212.2 L1483.0 1196.7 L1483.4 1180.1 L1483.5 1160.0 L1483.5 1160.0 L1483.4 1152.0 L1483.2 1144.0 L1482.9 1136.0 L1482.5 1128.0 L1481.9 1120.0 L1481.2 1112.0 L1480.4 1104.0 L1479.4 1096.0 L1478.3 1088.0 L1477.1 1080.0 L1475.7 1072.0 L1474.2 1064.0 L1472.6 1056.0 L1470.8 1048.0 L1468.9 1040.0 L1466.8 1032.0 L1464.6 1024.0 L1462.3 1016.0 L1459.8 1008.0 L1457.1 1000.0 L1454.3 992.0 L1451.4 984.0 L1448.3 976.0 L1445.0 968.0 L1441.6 960.0 L1438.0 952.0 L1434.2 944.0 L1430.2 936.0 L1426.1 928.0 L1421.7 920.0 L1417.2 912.0 L1412.4 904.0 L1407.5 896.0 L1402.3 888.0 L1396.9 880.0 L1391.2 872.0 L1385.3 864.0 L1379.1 856.0 L1372.7 848.0 L1365.9 840.0 L1358.9 832.0 L1351.5 824.0 L1354.6 820.0 L1248.6 799.0 L1275.0 835.0 L1300.0 870.0 L1322.7 900.0 L1330.7 908.0 L1338.2 916.0 L1345.4 924.0 L1352.3 932.0 L1358.8 940.0 L1365.0 948.0 L1370.8 956.0 L1376.4 964.0 L1381.8 972.0 L1386.9 980.0 L1391.7 988.0 L1396.3 996.0 L1400.6 1004.0 L1404.8 1012.0 L1408.7 1020.0 L1412.4 1028.0 L1415.9 1036.0 L1419.2 1044.0 L1422.4 1052.0 L1425.3 1060.0 L1428.1 1068.0 L1430.6 1076.0 L1433.0 1084.0 L1435.3 1092.0 L1437.3 1100.0 L1439.2 1108.0 L1441.0 1116.0 L1442.5 1124.0 L1443.9 1132.0 L1445.2 1140.0 L1446.2 1148.0 L1447.2 1156.0 L1448.5 1168.0 L1448.4 1176.0 L1448.3 1184.0 L1448.1 1192.0 L1447.8 1200.0 L1447.4 1208.0 L1446.9 1216.0 L1446.3 1224.0 L1445.6 1232.0 L1444.8 1240.0 L1443.8 1248.0 L1442.7 1256.0 L1441.5 1264.0 L1440.1 1272.0 L1438.5 1280.0 L1436.8 1288.0 L1434.9 1296.0 L1432.9 1304.0 L1430.7 1312.0 L1428.2 1320.0 L1425.6 1328.0 L1422.8 1336.0 L1419.7 1344.0 L1416.5 1352.0 L1413.0 1360.0 L1409.2 1368.0 L1405.2 1376.0 L1400.9 1384.0 L1396.3 1392.0 L1391.4 1400.0 L1386.1 1408.0 L1380.5 1416.0 L1374.5 1424.0 L1368.1 1432.0 L1361.2 1440.0 L1353.9 1448.0 L1346.0 1456.0 L1337.4 1464.0 L1328.3 1472.0 L1303.0 1479.4 L1300.0 1482.3 L1297.0 1485.2 L1294.0 1487.9 L1291.0 1490.7 L1288.0 1493.3 L1285.0 1496.0 L1282.0 1498.5 L1279.0 1501.1 L1276.0 1503.5 L1273.0 1506.0 L1270.0 1508.3 L1267.0 1510.7 L1264.0 1512.9 L1261.0 1515.2 L1258.0 1517.4 L1255.0 1519.5 L1252.0 1521.7 L1249.0 1523.7 L1246.0 1525.8 L1243.0 1527.8 L1240.0 1529.7 L1237.0 1531.7 L1234.0 1533.5 L1231.0 1535.4 L1228.0 1537.2 L1225.0 1539.0 L1222.0 1540.7 L1219.0 1542.4 L1216.0 1544.1 L1213.0 1545.7 L1210.0 1547.4 L1207.0 1548.9 L1204.0 1550.5 L1201.0 1552.0 L1198.0 1553.5 L1195.0 1554.9 L1192.0 1556.3 L1189.0 1557.7 L1186.0 1559.1 L1183.0 1560.4 L1180.0 1561.7 L1177.0 1563.0 L1174.0 1564.2 L1171.0 1565.4 L1168.0 1566.6 L1165.0 1567.8 L1162.0 1568.9 L1159.0 1570.0 L1156.0 1571.1 L1153.0 1572.1 L1150.0 1573.1 L1147.0 1574.1 L1144.0 1575.1 L1141.0 1576.0 L1138.0 1576.9 L1135.0 1577.8 L1132.0 1578.7 L1129.0 1579.5 L1126.0 1580.3 L1123.0 1581.1 L1120.0 1581.8 L1117.0 1582.5 L1114.0 1583.2 L1111.0 1583.9 L1108.0 1584.5 L1105.0 1585.2 L1102.0 1585.8 L1099.0 1586.3 L1096.0 1586.9 L1093.0 1587.4 L1090.0 1587.9 L1087.0 1588.3 L1084.0 1588.8 L1081.0 1589.2 L1078.0 1589.5 L1075.0 1589.9 L1072.0 1590.2 L1069.0 1590.5 L1066.0 1590.8 L1063.0 1591.1 L1060.0 1591.3 L1057.0 1591.5 L1054.0 1591.6 L1051.0 1591.8 L1048.0 1591.9 L1045.0 1591.9 L1042.0 1592.0 L1040.0 1592.0 L1037.0 1592.0 L1034.0 1591.9 L1031.0 1591.9 L1028.0 1591.8 L1025.0 1591.6 L1022.0 1591.5 L1019.0 1591.3 L1016.0 1591.1 L1013.0 1590.9 L1010.0 1590.6 L1007.0 1590.3 L1004.0 1590.0 L1001.0 1589.7 L998.0 1589.4 L995.0 1589.0 L992.0 1588.6 L989.0 1588.2 L986.0 1587.8 L983.0 1587.3 L980.0 1586.8 L977.0 1586.3 L974.0 1585.8 L971.0 1585.2 L968.0 1584.6 L965.0 1584.0 L962.0 1583.4 L959.0 1582.8 L956.0 1582.1 L953.0 1581.4 L950.0 1580.7 L947.0 1580.0 L944.0 1579.2 L941.0 1578.4 L938.0 1577.6 L935.0 1576.8 L932.0 1575.9 L929.0 1575.1 L926.0 1574.2 L923.0 1573.2 L920.0 1572.3 L917.0 1571.3 L914.0 1570.3 L911.0 1569.3 L908.0 1568.2 L905.0 1567.2 L902.0 1566.1 L899.0 1565.0 L896.0 1563.8 L893.0 1562.6 L890.0 1561.4 L887.0 1560.2 L884.0 1559.0 L881.0 1557.7 L878.0 1556.4 L875.0 1555.1 L872.0 1553.7 L869.0 1552.3 L866.0 1550.9 L863.0 1549.5 L860.0 1548.0 L857.0 1546.5 L854.0 1545.0 L851.0 1543.4 L848.0 1541.9 L845.0 1540.3 L842.0 1538.6 L839.0 1536.9 L836.0 1535.2 L833.0 1533.5 L830.0 1531.7 L827.0 1529.9 L824.0 1528.1 L821.0 1526.2 L818.0 1524.3 L815.0 1522.4 L812.0 1520.4 L809.0 1518.4 L806.0 1516.4 L803.0 1514.3 L800.0 1512.2 L797.0 1510.0 L794.0 1507.8 L791.0 1505.6 L788.0 1503.3 L785.0 1501.0 L782.0 1498.6 L779.0 1496.2 L776.0 1493.8 L773.0 1491.3 L770.0 1488.7 L767.0 1486.2 L764.0 1483.5 L761.0 1480.8 L758.0 1478.1 L755.0 1475.3 L753.0 1473.4 L725.6 1476.0 L716.1 1468.0 L707.2 1460.0 L699.0 1452.0 L691.4 1444.0 L684.3 1436.0 L677.6 1428.0 L671.4 1420.0 L665.6 1412.0 L660.2 1404.0 L655.1 1396.0 L650.4 1388.0 L645.9 1380.0 L641.8 1372.0 L637.9 1364.0 L634.2 1356.0 L630.9 1348.0 L627.7 1340.0 L624.8 1332.0 L622.1 1324.0 L619.5 1316.0 L617.2 1308.0 L615.1 1300.0 L613.1 1292.0 L611.3 1284.0 L609.7 1276.0 L608.2 1268.0 L606.9 1260.0 L605.7 1252.0 L604.7 1244.0 L603.8 1236.0 L603.0 1228.0 L602.4 1220.0 L601.8 1212.0 L601.4 1204.0 L601.0 1196.0 L600.8 1188.0 L600.6 1180.0 L600.5 1172.0 L601.4 1160.0 L602.3 1152.0 L603.3 1144.0 L604.4 1136.0 L605.8 1128.0 L607.2 1120.0 L608.9 1112.0 L610.7 1104.0 L612.7 1096.0 L614.8 1088.0 L617.1 1080.0 L619.6 1072.0 L622.3 1064.0 L625.1 1056.0 L628.2 1048.0 L631.4 1040.0 L634.8 1032.0 L638.4 1024.0 L642.2 1016.0 L646.3 1008.0 L650.5 1000.0 L655.0 992.0 L659.7 984.0 L664.7 976.0 L669.9 968.0 L675.3 960.0 L681.1 952.0 L687.1 944.0 L693.4 936.0 L700.1 928.0 L707.1 920.0 L714.5 912.0 L731.6 878.0 L750.6 852.0 L780.9 821.6 L801.7 800.0 Z" fill="#d0d0d4" stroke="#3e3e42" stroke-width="2.5"/>
<clipPath id="cShank"><path d="M704.1 824.0 L696.7 832.0 L689.6 840.0 L682.8 848.0 L676.3 856.0 L670.1 864.0 L664.2 872.0 L658.5 880.0 L653.1 888.0 L647.9 896.0 L642.9 904.0 L638.1 912.0 L633.6 920.0 L629.2 928.0 L625.0 936.0 L621.0 944.0 L617.2 952.0 L613.6 960.0 L610.2 968.0 L606.9 976.0 L603.7 984.0 L600.8 992.0 L598.0 1000.0 L595.3 1008.0 L592.8 1016.0 L590.5 1024.0 L588.3 1032.0 L586.2 1040.0 L584.3 1048.0 L582.5 1056.0 L580.9 1064.0 L579.3 1072.0 L578.0 1080.0 L576.7 1088.0 L575.6 1096.0 L574.7 1104.0 L573.8 1112.0 L573.1 1120.0 L572.5 1128.0 L572.1 1136.0 L571.8 1144.0 L571.6 1152.0 L571.5 1160.0 L571.5 1160.0 L571.6 1174.9 L572.1 1188.7 L572.8 1202.2 L573.9 1215.5 L575.2 1228.6 L576.9 1241.5 L578.8 1254.3 L581.0 1266.9 L583.5 1279.3 L586.3 1291.7 L589.4 1303.8 L592.8 1315.9 L596.5 1327.8 L600.5 1339.5 L604.7 1351.1 L609.2 1362.5 L614.0 1373.8 L619.1 1384.9 L624.4 1395.8 L630.0 1406.5 L635.9 1417.1 L642.0 1427.4 L648.4 1437.6 L655.0 1447.6 L661.9 1457.3 L669.1 1466.9 L676.4 1476.2 L684.0 1485.3 L691.9 1494.2 L700.0 1502.9 L708.3 1511.3 L716.8 1519.5 L725.5 1527.5 L734.5 1535.2 L743.6 1542.6 L753.0 1549.8 L762.5 1556.7 L772.3 1563.4 L782.2 1569.8 L792.3 1575.9 L802.6 1581.8 L813.1 1587.4 L823.7 1592.6 L834.5 1597.6 L845.4 1602.4 L856.5 1606.8 L867.8 1610.9 L879.2 1614.7 L890.7 1618.3 L902.4 1621.5 L914.2 1624.4 L926.1 1627.1 L938.2 1629.4 L950.4 1631.4 L962.8 1633.1 L975.3 1634.5 L988.0 1635.6 L1001.0 1636.4 L1014.3 1636.8 L1028.5 1637.0 L1047.7 1636.9 L1063.5 1636.4 L1078.3 1635.7 L1092.4 1634.7 L1106.0 1633.4 L1119.2 1631.9 L1132.0 1630.0 L1144.6 1627.9 L1156.9 1625.5 L1169.0 1622.8 L1180.8 1619.9 L1192.4 1616.6 L1203.8 1613.1 L1214.9 1609.3 L1225.9 1605.3 L1236.6 1600.9 L1247.1 1596.3 L1257.5 1591.5 L1267.6 1586.3 L1277.5 1580.9 L1287.2 1575.3 L1296.8 1569.3 L1306.0 1563.2 L1315.1 1556.7 L1324.0 1550.0 L1332.7 1543.1 L1341.1 1535.9 L1349.3 1528.5 L1357.3 1520.8 L1365.1 1512.9 L1372.7 1504.7 L1380.0 1496.3 L1387.1 1487.7 L1393.9 1478.9 L1400.5 1469.8 L1406.9 1460.5 L1413.1 1451.0 L1419.0 1441.2 L1424.6 1431.3 L1430.0 1421.1 L1435.2 1410.7 L1440.1 1400.0 L1444.7 1389.2 L1449.1 1378.2 L1453.2 1366.9 L1457.1 1355.4 L1460.7 1343.7 L1464.1 1331.8 L1467.2 1319.6 L1470.0 1307.3 L1472.5 1294.6 L1474.8 1281.7 L1476.9 1268.5 L1478.6 1255.0 L1480.1 1241.2 L1481.3 1226.9 L1482.3 1212.2 L1483.0 1196.7 L1483.4 1180.1 L1483.5 1160.0 L1483.5 1160.0 L1483.4 1152.0 L1483.2 1144.0 L1482.9 1136.0 L1482.5 1128.0 L1481.9 1120.0 L1481.2 1112.0 L1480.4 1104.0 L1479.4 1096.0 L1478.3 1088.0 L1477.1 1080.0 L1475.7 1072.0 L1474.2 1064.0 L1472.6 1056.0 L1470.8 1048.0 L1468.9 1040.0 L1466.8 1032.0 L1464.6 1024.0 L1462.3 1016.0 L1459.8 1008.0 L1457.1 1000.0 L1454.3 992.0 L1451.4 984.0 L1448.3 976.0 L1445.0 968.0 L1441.6 960.0 L1438.0 952.0 L1434.2 944.0 L1430.2 936.0 L1426.1 928.0 L1421.7 920.0 L1417.2 912.0 L1412.4 904.0 L1407.5 896.0 L1402.3 888.0 L1396.9 880.0 L1391.2 872.0 L1385.3 864.0 L1379.1 856.0 L1372.7 848.0 L1365.9 840.0 L1358.9 832.0 L1351.5 824.0 L1354.6 820.0 L1248.6 799.0 L1275.0 835.0 L1300.0 870.0 L1322.7 900.0 L1330.7 908.0 L1338.2 916.0 L1345.4 924.0 L1352.3 932.0 L1358.8 940.0 L1365.0 948.0 L1370.8 956.0 L1376.4 964.0 L1381.8 972.0 L1386.9 980.0 L1391.7 988.0 L1396.3 996.0 L1400.6 1004.0 L1404.8 1012.0 L1408.7 1020.0 L1412.4 1028.0 L1415.9 1036.0 L1419.2 1044.0 L1422.4 1052.0 L1425.3 1060.0 L1428.1 1068.0 L1430.6 1076.0 L1433.0 1084.0 L1435.3 1092.0 L1437.3 1100.0 L1439.2 1108.0 L1441.0 1116.0 L1442.5 1124.0 L1443.9 1132.0 L1445.2 1140.0 L1446.2 1148.0 L1447.2 1156.0 L1448.5 1168.0 L1448.4 1176.0 L1448.3 1184.0 L1448.1 1192.0 L1447.8 1200.0 L1447.4 1208.0 L1446.9 1216.0 L1446.3 1224.0 L1445.6 1232.0 L1444.8 1240.0 L1443.8 1248.0 L1442.7 1256.0 L1441.5 1264.0 L1440.1 1272.0 L1438.5 1280.0 L1436.8 1288.0 L1434.9 1296.0 L1432.9 1304.0 L1430.7 1312.0 L1428.2 1320.0 L1425.6 1328.0 L1422.8 1336.0 L1419.7 1344.0 L1416.5 1352.0 L1413.0 1360.0 L1409.2 1368.0 L1405.2 1376.0 L1400.9 1384.0 L1396.3 1392.0 L1391.4 1400.0 L1386.1 1408.0 L1380.5 1416.0 L1374.5 1424.0 L1368.1 1432.0 L1361.2 1440.0 L1353.9 1448.0 L1346.0 1456.0 L1337.4 1464.0 L1328.3 1472.0 L1303.0 1479.4 L1300.0 1482.3 L1297.0 1485.2 L1294.0 1487.9 L1291.0 1490.7 L1288.0 1493.3 L1285.0 1496.0 L1282.0 1498.5 L1279.0 1501.1 L1276.0 1503.5 L1273.0 1506.0 L1270.0 1508.3 L1267.0 1510.7 L1264.0 1512.9 L1261.0 1515.2 L1258.0 1517.4 L1255.0 1519.5 L1252.0 1521.7 L1249.0 1523.7 L1246.0 1525.8 L1243.0 1527.8 L1240.0 1529.7 L1237.0 1531.7 L1234.0 1533.5 L1231.0 1535.4 L1228.0 1537.2 L1225.0 1539.0 L1222.0 1540.7 L1219.0 1542.4 L1216.0 1544.1 L1213.0 1545.7 L1210.0 1547.4 L1207.0 1548.9 L1204.0 1550.5 L1201.0 1552.0 L1198.0 1553.5 L1195.0 1554.9 L1192.0 1556.3 L1189.0 1557.7 L1186.0 1559.1 L1183.0 1560.4 L1180.0 1561.7 L1177.0 1563.0 L1174.0 1564.2 L1171.0 1565.4 L1168.0 1566.6 L1165.0 1567.8 L1162.0 1568.9 L1159.0 1570.0 L1156.0 1571.1 L1153.0 1572.1 L1150.0 1573.1 L1147.0 1574.1 L1144.0 1575.1 L1141.0 1576.0 L1138.0 1576.9 L1135.0 1577.8 L1132.0 1578.7 L1129.0 1579.5 L1126.0 1580.3 L1123.0 1581.1 L1120.0 1581.8 L1117.0 1582.5 L1114.0 1583.2 L1111.0 1583.9 L1108.0 1584.5 L1105.0 1585.2 L1102.0 1585.8 L1099.0 1586.3 L1096.0 1586.9 L1093.0 1587.4 L1090.0 1587.9 L1087.0 1588.3 L1084.0 1588.8 L1081.0 1589.2 L1078.0 1589.5 L1075.0 1589.9 L1072.0 1590.2 L1069.0 1590.5 L1066.0 1590.8 L1063.0 1591.1 L1060.0 1591.3 L1057.0 1591.5 L1054.0 1591.6 L1051.0 1591.8 L1048.0 1591.9 L1045.0 1591.9 L1042.0 1592.0 L1040.0 1592.0 L1037.0 1592.0 L1034.0 1591.9 L1031.0 1591.9 L1028.0 1591.8 L1025.0 1591.6 L1022.0 1591.5 L1019.0 1591.3 L1016.0 1591.1 L1013.0 1590.9 L1010.0 1590.6 L1007.0 1590.3 L1004.0 1590.0 L1001.0 1589.7 L998.0 1589.4 L995.0 1589.0 L992.0 1588.6 L989.0 1588.2 L986.0 1587.8 L983.0 1587.3 L980.0 1586.8 L977.0 1586.3 L974.0 1585.8 L971.0 1585.2 L968.0 1584.6 L965.0 1584.0 L962.0 1583.4 L959.0 1582.8 L956.0 1582.1 L953.0 1581.4 L950.0 1580.7 L947.0 1580.0 L944.0 1579.2 L941.0 1578.4 L938.0 1577.6 L935.0 1576.8 L932.0 1575.9 L929.0 1575.1 L926.0 1574.2 L923.0 1573.2 L920.0 1572.3 L917.0 1571.3 L914.0 1570.3 L911.0 1569.3 L908.0 1568.2 L905.0 1567.2 L902.0 1566.1 L899.0 1565.0 L896.0 1563.8 L893.0 1562.6 L890.0 1561.4 L887.0 1560.2 L884.0 1559.0 L881.0 1557.7 L878.0 1556.4 L875.0 1555.1 L872.0 1553.7 L869.0 1552.3 L866.0 1550.9 L863.0 1549.5 L860.0 1548.0 L857.0 1546.5 L854.0 1545.0 L851.0 1543.4 L848.0 1541.9 L845.0 1540.3 L842.0 1538.6 L839.0 1536.9 L836.0 1535.2 L833.0 1533.5 L830.0 1531.7 L827.0 1529.9 L824.0 1528.1 L821.0 1526.2 L818.0 1524.3 L815.0 1522.4 L812.0 1520.4 L809.0 1518.4 L806.0 1516.4 L803.0 1514.3 L800.0 1512.2 L797.0 1510.0 L794.0 1507.8 L791.0 1505.6 L788.0 1503.3 L785.0 1501.0 L782.0 1498.6 L779.0 1496.2 L776.0 1493.8 L773.0 1491.3 L770.0 1488.7 L767.0 1486.2 L764.0 1483.5 L761.0 1480.8 L758.0 1478.1 L755.0 1475.3 L753.0 1473.4 L725.6 1476.0 L716.1 1468.0 L707.2 1460.0 L699.0 1452.0 L691.4 1444.0 L684.3 1436.0 L677.6 1428.0 L671.4 1420.0 L665.6 1412.0 L660.2 1404.0 L655.1 1396.0 L650.4 1388.0 L645.9 1380.0 L641.8 1372.0 L637.9 1364.0 L634.2 1356.0 L630.9 1348.0 L627.7 1340.0 L624.8 1332.0 L622.1 1324.0 L619.5 1316.0 L617.2 1308.0 L615.1 1300.0 L613.1 1292.0 L611.3 1284.0 L609.7 1276.0 L608.2 1268.0 L606.9 1260.0 L605.7 1252.0 L604.7 1244.0 L603.8 1236.0 L603.0 1228.0 L602.4 1220.0 L601.8 1212.0 L601.4 1204.0 L601.0 1196.0 L600.8 1188.0 L600.6 1180.0 L600.5 1172.0 L601.4 1160.0 L602.3 1152.0 L603.3 1144.0 L604.4 1136.0 L605.8 1128.0 L607.2 1120.0 L608.9 1112.0 L610.7 1104.0 L612.7 1096.0 L614.8 1088.0 L617.1 1080.0 L619.6 1072.0 L622.3 1064.0 L625.1 1056.0 L628.2 1048.0 L631.4 1040.0 L634.8 1032.0 L638.4 1024.0 L642.2 1016.0 L646.3 1008.0 L650.5 1000.0 L655.0 992.0 L659.7 984.0 L664.7 976.0 L669.9 968.0 L675.3 960.0 L681.1 952.0 L687.1 944.0 L693.4 936.0 L700.1 928.0 L707.1 920.0 L714.5 912.0 L731.6 878.0 L750.6 852.0 L780.9 821.6 L801.7 800.0 Z"/></clipPath>
<g clip-path="url(#cShank)">
<path d="M610.8 1365.5 L620.0 1386.6 L630.1 1406.8 L641.3 1426.3 L653.4 1445.0 L666.5 1462.8 L680.6 1479.7 L695.6 1495.8 L711.4 1511.0 L728.2 1525.2 L745.8 1538.5 L764.2 1550.8 L783.4 1562.1 L803.4 1572.4 L824.2 1581.6 L845.8 1589.8 L868.2 1597.0 L891.3 1603.0 L915.4 1608.0 L940.3 1611.9 L966.5 1614.7 L994.4 1616.3 L1027.5 1616.9 L1060.5 1616.3 L1088.4 1614.7 L1114.6 1611.9 L1139.5 1608.0 L1163.6 1603.0 L1186.7 1597.0 L1209.1 1589.8 L1230.7 1581.6 L1251.5 1572.4 L1271.5 1562.1 L1290.7 1550.8 L1309.1 1538.5 L1326.7 1525.2 L1343.5 1511.0 L1359.3 1495.8 L1374.3 1479.7 L1388.4 1462.8 L1401.5 1445.0 L1413.6 1426.3 L1424.8 1406.8 L1434.9 1386.6 L1444.1 1365.5" fill="none" stroke="#e4e4e6" stroke-width="14" stroke-linecap="round" filter="url(#blur6)"/>
<path d="M582.1 1249.3 L584.9 1266.0 L588.3 1282.4 L592.2 1298.6 L596.6 1314.6 L601.6 1330.3 L607.0 1345.7 L612.9 1360.8 L619.3 1375.7 L626.1 1390.2 L633.5 1404.4 L641.3 1418.3 L649.6 1431.9 L658.3 1445.1 L667.5 1458.0 L677.0 1470.5 L687.1 1482.6 L697.5 1494.3 L708.3 1505.6 L719.5 1516.5 L731.1 1527.0 L743.1 1537.0 L755.4 1546.5 L768.1 1555.7 L781.1 1564.3 L794.4 1572.4 L808.0 1580.1 L822.0 1587.3 L836.2 1594.0 L850.7 1600.1 L865.4 1605.8 L880.5 1610.9 L895.7 1615.5 L911.2 1619.6 L927.0 1623.2 L943.0 1626.2 L959.2 1628.6 L975.8 1630.5 L992.6 1631.9 L1010.0 1632.7 L1028.5 1633.0 L1052.8 1632.7 L1072.9 1632.0 L1091.6 1630.7 L1109.5 1629.0 L1126.7 1626.7 L1143.3 1624.0 L1159.5 1620.8 L1175.2 1617.0 L1190.6 1612.8 L1205.5 1608.1 L1220.1 1602.9 L1234.3 1597.2 L1248.2 1591.1 L1261.7 1584.5 L1274.8 1577.4 L1287.6 1569.8 L1300.0 1561.8 L1312.0 1553.4 L1323.6 1544.5 L1334.9 1535.2 L1345.8 1525.4 L1356.3 1515.2 L1366.4 1504.6 L1376.1 1493.5 L1385.4 1482.1 L1394.3 1470.2 L1402.8 1458.0 L1410.8 1445.3 L1418.4 1432.3 L1425.6 1418.9 L1432.3 1405.1 L1438.6 1390.9 L1444.5 1376.3 L1449.9 1361.4 L1454.8 1346.1 L1459.3 1330.4 L1463.3 1314.2 L1466.9 1297.7 L1469.9 1280.7 L1472.5 1263.2" fill="none" stroke="#9c9ca0" stroke-width="3" filter="url(#blur3)"/>
<path d="M1303.0 1479.4 L1300.0 1482.3 L1297.0 1485.2 L1294.0 1487.9 L1291.0 1490.7 L1288.0 1493.3 L1285.0 1496.0 L1282.0 1498.5 L1279.0 1501.1 L1276.0 1503.5 L1273.0 1506.0 L1270.0 1508.3 L1267.0 1510.7 L1264.0 1512.9 L1261.0 1515.2 L1258.0 1517.4 L1255.0 1519.5 L1252.0 1521.7 L1249.0 1523.7 L1246.0 1525.8 L1243.0 1527.8 L1240.0 1529.7 L1237.0 1531.7 L1234.0 1533.5 L1231.0 1535.4 L1228.0 1537.2 L1225.0 1539.0 L1222.0 1540.7 L1219.0 1542.4 L1216.0 1544.1 L1213.0 1545.7 L1210.0 1547.4 L1207.0 1548.9 L1204.0 1550.5 L1201.0 1552.0 L1198.0 1553.5 L1195.0 1554.9 L1192.0 1556.3 L1189.0 1557.7 L1186.0 1559.1 L1183.0 1560.4 L1180.0 1561.7 L1177.0 1563.0 L1174.0 1564.2 L1171.0 1565.4 L1168.0 1566.6 L1165.0 1567.8 L1162.0 1568.9 L1159.0 1570.0 L1156.0 1571.1 L1153.0 1572.1 L1150.0 1573.1 L1147.0 1574.1 L1144.0 1575.1 L1141.0 1576.0 L1138.0 1576.9 L1135.0 1577.8 L1132.0 1578.7 L1129.0 1579.5 L1126.0 1580.3 L1123.0 1581.1 L1120.0 1581.8 L1117.0 1582.5 L1114.0 1583.2 L1111.0 1583.9 L1108.0 1584.5 L1105.0 1585.2 L1102.0 1585.8 L1099.0 1586.3 L1096.0 1586.9 L1093.0 1587.4 L1090.0 1587.9 L1087.0 1588.3 L1084.0 1588.8 L1081.0 1589.2 L1078.0 1589.5 L1075.0 1589.9 L1072.0 1590.2 L1069.0 1590.5 L1066.0 1590.8 L1063.0 1591.1 L1060.0 1591.3 L1057.0 1591.5 L1054.0 1591.6 L1051.0 1591.8 L1048.0 1591.9 L1045.0 1591.9 L1042.0 1592.0 L1040.0 1592.0 L1037.0 1592.0 L1034.0 1591.9 L1031.0 1591.9 L1028.0 1591.8 L1025.0 1591.6 L1022.0 1591.5 L1019.0 1591.3 L1016.0 1591.1 L1013.0 1590.9 L1010.0 1590.6 L1007.0 1590.3 L1004.0 1590.0 L1001.0 1589.7 L998.0 1589.4 L995.0 1589.0 L992.0 1588.6 L989.0 1588.2 L986.0 1587.8 L983.0 1587.3 L980.0 1586.8 L977.0 1586.3 L974.0 1585.8 L971.0 1585.2 L968.0 1584.6 L965.0 1584.0 L962.0 1583.4 L959.0 1582.8 L956.0 1582.1 L953.0 1581.4 L950.0 1580.7 L947.0 1580.0 L944.0 1579.2 L941.0 1578.4 L938.0 1577.6 L935.0 1576.8 L932.0 1575.9 L929.0 1575.1 L926.0 1574.2 L923.0 1573.2 L920.0 1572.3 L917.0 1571.3 L914.0 1570.3 L911.0 1569.3 L908.0 1568.2 L905.0 1567.2 L902.0 1566.1 L899.0 1565.0 L896.0 1563.8 L893.0 1562.6 L890.0 1561.4 L887.0 1560.2 L884.0 1559.0 L881.0 1557.7 L878.0 1556.4 L875.0 1555.1 L872.0 1553.7 L869.0 1552.3 L866.0 1550.9 L863.0 1549.5 L860.0 1548.0 L857.0 1546.5 L854.0 1545.0 L851.0 1543.4 L848.0 1541.9 L845.0 1540.3 L842.0 1538.6 L839.0 1536.9 L836.0 1535.2 L833.0 1533.5 L830.0 1531.7 L827.0 1529.9 L824.0 1528.1 L821.0 1526.2 L818.0 1524.3 L815.0 1522.4 L812.0 1520.4 L809.0 1518.4 L806.0 1516.4 L803.0 1514.3 L800.0 1512.2 L797.0 1510.0 L794.0 1507.8 L791.0 1505.6 L788.0 1503.3 L785.0 1501.0 L782.0 1498.6 L779.0 1496.2 L776.0 1493.8 L773.0 1491.3 L770.0 1488.7 L767.0 1486.2 L764.0 1483.5 L761.0 1480.8 L758.0 1478.1 L755.0 1475.3 L753.0 1473.4" fill="none" stroke="#a8a8ac" stroke-width="16" filter="url(#blur6)"/>
</g>
<path d="M704.1 824.0 L696.7 832.0 L689.6 840.0 L682.8 848.0 L676.3 856.0 L670.1 864.0 L664.2 872.0 L658.5 880.0 L653.1 888.0 L647.9 896.0 L642.9 904.0 L638.1 912.0 L633.6 920.0 L629.2 928.0 L625.0 936.0 L621.0 944.0 L617.2 952.0 L613.6 960.0 L610.2 968.0 L606.9 976.0 L603.7 984.0 L600.8 992.0 L598.0 1000.0 L595.3 1008.0 L592.8 1016.0 L590.5 1024.0 L588.3 1032.0 L586.2 1040.0 L584.3 1048.0 L582.5 1056.0 L580.9 1064.0 L579.3 1072.0 L578.0 1080.0 L576.7 1088.0 L575.6 1096.0 L574.7 1104.0 L573.8 1112.0 L573.1 1120.0 L572.5 1128.0 L572.1 1136.0 L571.8 1144.0 L571.6 1152.0 L571.5 1160.0 L571.5 1160.0 L571.6 1174.9 L572.1 1188.7 L572.8 1202.2 L573.9 1215.5 L575.2 1228.6 L576.9 1241.5 L578.8 1254.3 L581.0 1266.9 L583.5 1279.3 L586.3 1291.7 L589.4 1303.8 L592.8 1315.9 L596.5 1327.8 L600.5 1339.5 L604.7 1351.1 L609.2 1362.5 L614.0 1373.8 L619.1 1384.9 L624.4 1395.8 L630.0 1406.5 L635.9 1417.1 L642.0 1427.4 L648.4 1437.6 L655.0 1447.6 L661.9 1457.3 L669.1 1466.9 L676.4 1476.2 L684.0 1485.3 L691.9 1494.2 L700.0 1502.9 L708.3 1511.3 L716.8 1519.5 L725.5 1527.5 L734.5 1535.2 L743.6 1542.6 L753.0 1549.8 L762.5 1556.7 L772.3 1563.4 L782.2 1569.8 L792.3 1575.9 L802.6 1581.8 L813.1 1587.4 L823.7 1592.6 L834.5 1597.6 L845.4 1602.4 L856.5 1606.8 L867.8 1610.9 L879.2 1614.7 L890.7 1618.3 L902.4 1621.5 L914.2 1624.4 L926.1 1627.1 L938.2 1629.4 L950.4 1631.4 L962.8 1633.1 L975.3 1634.5 L988.0 1635.6 L1001.0 1636.4 L1014.3 1636.8 L1028.5 1637.0 L1047.7 1636.9 L1063.5 1636.4 L1078.3 1635.7 L1092.4 1634.7 L1106.0 1633.4 L1119.2 1631.9 L1132.0 1630.0 L1144.6 1627.9 L1156.9 1625.5 L1169.0 1622.8 L1180.8 1619.9 L1192.4 1616.6 L1203.8 1613.1 L1214.9 1609.3 L1225.9 1605.3 L1236.6 1600.9 L1247.1 1596.3 L1257.5 1591.5 L1267.6 1586.3 L1277.5 1580.9 L1287.2 1575.3 L1296.8 1569.3 L1306.0 1563.2 L1315.1 1556.7 L1324.0 1550.0 L1332.7 1543.1 L1341.1 1535.9 L1349.3 1528.5 L1357.3 1520.8 L1365.1 1512.9 L1372.7 1504.7 L1380.0 1496.3 L1387.1 1487.7 L1393.9 1478.9 L1400.5 1469.8 L1406.9 1460.5 L1413.1 1451.0 L1419.0 1441.2 L1424.6 1431.3 L1430.0 1421.1 L1435.2 1410.7 L1440.1 1400.0 L1444.7 1389.2 L1449.1 1378.2 L1453.2 1366.9 L1457.1 1355.4 L1460.7 1343.7 L1464.1 1331.8 L1467.2 1319.6 L1470.0 1307.3 L1472.5 1294.6 L1474.8 1281.7 L1476.9 1268.5 L1478.6 1255.0 L1480.1 1241.2 L1481.3 1226.9 L1482.3 1212.2 L1483.0 1196.7 L1483.4 1180.1 L1483.5 1160.0 L1483.5 1160.0 L1483.4 1152.0 L1483.2 1144.0 L1482.9 1136.0 L1482.5 1128.0 L1481.9 1120.0 L1481.2 1112.0 L1480.4 1104.0 L1479.4 1096.0 L1478.3 1088.0 L1477.1 1080.0 L1475.7 1072.0 L1474.2 1064.0 L1472.6 1056.0 L1470.8 1048.0 L1468.9 1040.0 L1466.8 1032.0 L1464.6 1024.0 L1462.3 1016.0 L1459.8 1008.0 L1457.1 1000.0 L1454.3 992.0 L1451.4 984.0 L1448.3 976.0 L1445.0 968.0 L1441.6 960.0 L1438.0 952.0 L1434.2 944.0 L1430.2 936.0 L1426.1 928.0 L1421.7 920.0 L1417.2 912.0 L1412.4 904.0 L1407.5 896.0 L1402.3 888.0 L1396.9 880.0 L1391.2 872.0 L1385.3 864.0 L1379.1 856.0 L1372.7 848.0 L1365.9 840.0 L1358.9 832.0 L1351.5 824.0 L1354.6 820.0 L1248.6 799.0 L1275.0 835.0 L1300.0 870.0 L1322.7 900.0 L1330.7 908.0 L1338.2 916.0 L1345.4 924.0 L1352.3 932.0 L1358.8 940.0 L1365.0 948.0 L1370.8 956.0 L1376.4 964.0 L1381.8 972.0 L1386.9 980.0 L1391.7 988.0 L1396.3 996.0 L1400.6 1004.0 L1404.8 1012.0 L1408.7 1020.0 L1412.4 1028.0 L1415.9 1036.0 L1419.2 1044.0 L1422.4 1052.0 L1425.3 1060.0 L1428.1 1068.0 L1430.6 1076.0 L1433.0 1084.0 L1435.3 1092.0 L1437.3 1100.0 L1439.2 1108.0 L1441.0 1116.0 L1442.5 1124.0 L1443.9 1132.0 L1445.2 1140.0 L1446.2 1148.0 L1447.2 1156.0 L1448.5 1168.0 L1448.4 1176.0 L1448.3 1184.0 L1448.1 1192.0 L1447.8 1200.0 L1447.4 1208.0 L1446.9 1216.0 L1446.3 1224.0 L1445.6 1232.0 L1444.8 1240.0 L1443.8 1248.0 L1442.7 1256.0 L1441.5 1264.0 L1440.1 1272.0 L1438.5 1280.0 L1436.8 1288.0 L1434.9 1296.0 L1432.9 1304.0 L1430.7 1312.0 L1428.2 1320.0 L1425.6 1328.0 L1422.8 1336.0 L1419.7 1344.0 L1416.5 1352.0 L1413.0 1360.0 L1409.2 1368.0 L1405.2 1376.0 L1400.9 1384.0 L1396.3 1392.0 L1391.4 1400.0 L1386.1 1408.0 L1380.5 1416.0 L1374.5 1424.0 L1368.1 1432.0 L1361.2 1440.0 L1353.9 1448.0 L1346.0 1456.0 L1337.4 1464.0 L1328.3 1472.0 L1303.0 1479.4 L1300.0 1482.3 L1297.0 1485.2 L1294.0 1487.9 L1291.0 1490.7 L1288.0 1493.3 L1285.0 1496.0 L1282.0 1498.5 L1279.0 1501.1 L1276.0 1503.5 L1273.0 1506.0 L1270.0 1508.3 L1267.0 1510.7 L1264.0 1512.9 L1261.0 1515.2 L1258.0 1517.4 L1255.0 1519.5 L1252.0 1521.7 L1249.0 1523.7 L1246.0 1525.8 L1243.0 1527.8 L1240.0 1529.7 L1237.0 1531.7 L1234.0 1533.5 L1231.0 1535.4 L1228.0 1537.2 L1225.0 1539.0 L1222.0 1540.7 L1219.0 1542.4 L1216.0 1544.1 L1213.0 1545.7 L1210.0 1547.4 L1207.0 1548.9 L1204.0 1550.5 L1201.0 1552.0 L1198.0 1553.5 L1195.0 1554.9 L1192.0 1556.3 L1189.0 1557.7 L1186.0 1559.1 L1183.0 1560.4 L1180.0 1561.7 L1177.0 1563.0 L1174.0 1564.2 L1171.0 1565.4 L1168.0 1566.6 L1165.0 1567.8 L1162.0 1568.9 L1159.0 1570.0 L1156.0 1571.1 L1153.0 1572.1 L1150.0 1573.1 L1147.0 1574.1 L1144.0 1575.1 L1141.0 1576.0 L1138.0 1576.9 L1135.0 1577.8 L1132.0 1578.7 L1129.0 1579.5 L1126.0 1580.3 L1123.0 1581.1 L1120.0 1581.8 L1117.0 1582.5 L1114.0 1583.2 L1111.0 1583.9 L1108.0 1584.5 L1105.0 1585.2 L1102.0 1585.8 L1099.0 1586.3 L1096.0 1586.9 L1093.0 1587.4 L1090.0 1587.9 L1087.0 1588.3 L1084.0 1588.8 L1081.0 1589.2 L1078.0 1589.5 L1075.0 1589.9 L1072.0 1590.2 L1069.0 1590.5 L1066.0 1590.8 L1063.0 1591.1 L1060.0 1591.3 L1057.0 1591.5 L1054.0 1591.6 L1051.0 1591.8 L1048.0 1591.9 L1045.0 1591.9 L1042.0 1592.0 L1040.0 1592.0 L1037.0 1592.0 L1034.0 1591.9 L1031.0 1591.9 L1028.0 1591.8 L1025.0 1591.6 L1022.0 1591.5 L1019.0 1591.3 L1016.0 1591.1 L1013.0 1590.9 L1010.0 1590.6 L1007.0 1590.3 L1004.0 1590.0 L1001.0 1589.7 L998.0 1589.4 L995.0 1589.0 L992.0 1588.6 L989.0 1588.2 L986.0 1587.8 L983.0 1587.3 L980.0 1586.8 L977.0 1586.3 L974.0 1585.8 L971.0 1585.2 L968.0 1584.6 L965.0 1584.0 L962.0 1583.4 L959.0 1582.8 L956.0 1582.1 L953.0 1581.4 L950.0 1580.7 L947.0 1580.0 L944.0 1579.2 L941.0 1578.4 L938.0 1577.6 L935.0 1576.8 L932.0 1575.9 L929.0 1575.1 L926.0 1574.2 L923.0 1573.2 L920.0 1572.3 L917.0 1571.3 L914.0 1570.3 L911.0 1569.3 L908.0 1568.2 L905.0 1567.2 L902.0 1566.1 L899.0 1565.0 L896.0 1563.8 L893.0 1562.6 L890.0 1561.4 L887.0 1560.2 L884.0 1559.0 L881.0 1557.7 L878.0 1556.4 L875.0 1555.1 L872.0 1553.7 L869.0 1552.3 L866.0 1550.9 L863.0 1549.5 L860.0 1548.0 L857.0 1546.5 L854.0 1545.0 L851.0 1543.4 L848.0 1541.9 L845.0 1540.3 L842.0 1538.6 L839.0 1536.9 L836.0 1535.2 L833.0 1533.5 L830.0 1531.7 L827.0 1529.9 L824.0 1528.1 L821.0 1526.2 L818.0 1524.3 L815.0 1522.4 L812.0 1520.4 L809.0 1518.4 L806.0 1516.4 L803.0 1514.3 L800.0 1512.2 L797.0 1510.0 L794.0 1507.8 L791.0 1505.6 L788.0 1503.3 L785.0 1501.0 L782.0 1498.6 L779.0 1496.2 L776.0 1493.8 L773.0 1491.3 L770.0 1488.7 L767.0 1486.2 L764.0 1483.5 L761.0 1480.8 L758.0 1478.1 L755.0 1475.3 L753.0 1473.4 L725.6 1476.0 L716.1 1468.0 L707.2 1460.0 L699.0 1452.0 L691.4 1444.0 L684.3 1436.0 L677.6 1428.0 L671.4 1420.0 L665.6 1412.0 L660.2 1404.0 L655.1 1396.0 L650.4 1388.0 L645.9 1380.0 L641.8 1372.0 L637.9 1364.0 L634.2 1356.0 L630.9 1348.0 L627.7 1340.0 L624.8 1332.0 L622.1 1324.0 L619.5 1316.0 L617.2 1308.0 L615.1 1300.0 L613.1 1292.0 L611.3 1284.0 L609.7 1276.0 L608.2 1268.0 L606.9 1260.0 L605.7 1252.0 L604.7 1244.0 L603.8 1236.0 L603.0 1228.0 L602.4 1220.0 L601.8 1212.0 L601.4 1204.0 L601.0 1196.0 L600.8 1188.0 L600.6 1180.0 L600.5 1172.0 L601.4 1160.0 L602.3 1152.0 L603.3 1144.0 L604.4 1136.0 L605.8 1128.0 L607.2 1120.0 L608.9 1112.0 L610.7 1104.0 L612.7 1096.0 L614.8 1088.0 L617.1 1080.0 L619.6 1072.0 L622.3 1064.0 L625.1 1056.0 L628.2 1048.0 L631.4 1040.0 L634.8 1032.0 L638.4 1024.0 L642.2 1016.0 L646.3 1008.0 L650.5 1000.0 L655.0 992.0 L659.7 984.0 L664.7 976.0 L669.9 968.0 L675.3 960.0 L681.1 952.0 L687.1 944.0 L693.4 936.0 L700.1 928.0 L707.1 920.0 L714.5 912.0 L731.6 878.0 L750.6 852.0 L780.9 821.6 L801.7 800.0 Z" fill="none" stroke="#3e3e42" stroke-width="2.5"/>
<path d="M1303.0 1479.4 L1300.0 1482.3 L1297.0 1485.2 L1294.0 1487.9 L1291.0 1490.7 L1288.0 1493.3 L1285.0 1496.0 L1282.0 1498.5 L1279.0 1501.1 L1276.0 1503.5 L1273.0 1506.0 L1270.0 1508.3 L1267.0 1510.7 L1264.0 1512.9 L1261.0 1515.2 L1258.0 1517.4 L1255.0 1519.5 L1252.0 1521.7 L1249.0 1523.7 L1246.0 1525.8 L1243.0 1527.8 L1240.0 1529.7 L1237.0 1531.7 L1234.0 1533.5 L1231.0 1535.4 L1228.0 1537.2 L1225.0 1539.0 L1222.0 1540.7 L1219.0 1542.4 L1216.0 1544.1 L1213.0 1545.7 L1210.0 1547.4 L1207.0 1548.9 L1204.0 1550.5 L1201.0 1552.0 L1198.0 1553.5 L1195.0 1554.9 L1192.0 1556.3 L1189.0 1557.7 L1186.0 1559.1 L1183.0 1560.4 L1180.0 1561.7 L1177.0 1563.0 L1174.0 1564.2 L1171.0 1565.4 L1168.0 1566.6 L1165.0 1567.8 L1162.0 1568.9 L1159.0 1570.0 L1156.0 1571.1 L1153.0 1572.1 L1150.0 1573.1 L1147.0 1574.1 L1144.0 1575.1 L1141.0 1576.0 L1138.0 1576.9 L1135.0 1577.8 L1132.0 1578.7 L1129.0 1579.5 L1126.0 1580.3 L1123.0 1581.1 L1120.0 1581.8 L1117.0 1582.5 L1114.0 1583.2 L1111.0 1583.9 L1108.0 1584.5 L1105.0 1585.2 L1102.0 1585.8 L1099.0 1586.3 L1096.0 1586.9 L1093.0 1587.4 L1090.0 1587.9 L1087.0 1588.3 L1084.0 1588.8 L1081.0 1589.2 L1078.0 1589.5 L1075.0 1589.9 L1072.0 1590.2 L1069.0 1590.5 L1066.0 1590.8 L1063.0 1591.1 L1060.0 1591.3 L1057.0 1591.5 L1054.0 1591.6 L1051.0 1591.8 L1048.0 1591.9 L1045.0 1591.9 L1042.0 1592.0 L1040.0 1592.0 L1037.0 1592.0 L1034.0 1591.9 L1031.0 1591.9 L1028.0 1591.8 L1025.0 1591.6 L1022.0 1591.5 L1019.0 1591.3 L1016.0 1591.1 L1013.0 1590.9 L1010.0 1590.6 L1007.0 1590.3 L1004.0 1590.0 L1001.0 1589.7 L998.0 1589.4 L995.0 1589.0 L992.0 1588.6 L989.0 1588.2 L986.0 1587.8 L983.0 1587.3 L980.0 1586.8 L977.0 1586.3 L974.0 1585.8 L971.0 1585.2 L968.0 1584.6 L965.0 1584.0 L962.0 1583.4 L959.0 1582.8 L956.0 1582.1 L953.0 1581.4 L950.0 1580.7 L947.0 1580.0 L944.0 1579.2 L941.0 1578.4 L938.0 1577.6 L935.0 1576.8 L932.0 1575.9 L929.0 1575.1 L926.0 1574.2 L923.0 1573.2 L920.0 1572.3 L917.0 1571.3 L914.0 1570.3 L911.0 1569.3 L908.0 1568.2 L905.0 1567.2 L902.0 1566.1 L899.0 1565.0 L896.0 1563.8 L893.0 1562.6 L890.0 1561.4 L887.0 1560.2 L884.0 1559.0 L881.0 1557.7 L878.0 1556.4 L875.0 1555.1 L872.0 1553.7 L869.0 1552.3 L866.0 1550.9 L863.0 1549.5 L860.0 1548.0 L857.0 1546.5 L854.0 1545.0 L851.0 1543.4 L848.0 1541.9 L845.0 1540.3 L842.0 1538.6 L839.0 1536.9 L836.0 1535.2 L833.0 1533.5 L830.0 1531.7 L827.0 1529.9 L824.0 1528.1 L821.0 1526.2 L818.0 1524.3 L815.0 1522.4 L812.0 1520.4 L809.0 1518.4 L806.0 1516.4 L803.0 1514.3 L800.0 1512.2 L797.0 1510.0 L794.0 1507.8 L791.0 1505.6 L788.0 1503.3 L785.0 1501.0 L782.0 1498.6 L779.0 1496.2 L776.0 1493.8 L773.0 1491.3 L770.0 1488.7 L767.0 1486.2 L764.0 1483.5 L761.0 1480.8 L758.0 1478.1 L755.0 1475.3 L753.0 1473.4" fill="none" stroke="#111" stroke-width="4.5"/>
<ellipse cx="679.7" cy="855.2" rx="13" ry="15" fill="#b4b4b8"/>
<ellipse cx="679.7" cy="855.2" rx="10" ry="12" fill="#eeeef0" stroke="#2a2a2e" stroke-width="2.2"/>
<path d="M673.7 851.6 L681.7 854.0 L676.7 861.2 M684.7 848.0 L680.7 857.6 L685.7 860.0" fill="none" stroke="#6a6a70" stroke-width="1.8"/>
<ellipse cx="651.5" cy="908.3" rx="16" ry="17" fill="#b4b4b8"/>
<ellipse cx="651.5" cy="908.3" rx="13" ry="14" fill="#eeeef0" stroke="#2a2a2e" stroke-width="2.2"/>
<path d="M643.7 904.1 L654.1 906.9 L647.6 915.3 M658.0 899.9 L652.8 911.1 L659.3 913.9" fill="none" stroke="#6a6a70" stroke-width="1.8"/>
<ellipse cx="619" cy="967.8" rx="17" ry="21" fill="#b4b4b8"/>
<ellipse cx="619" cy="967.8" rx="14" ry="18" fill="#eeeef0" stroke="#2a2a2e" stroke-width="2.2"/>
<path d="M610.6 962.4 L621.8 966.0 L614.8 976.8 M626.0 957.0 L620.4 971.4 L627.4 975.0" fill="none" stroke="#6a6a70" stroke-width="1.8"/>
<ellipse cx="593" cy="1042.5" rx="15" ry="22" fill="#b4b4b8"/>
<ellipse cx="593" cy="1042.5" rx="12" ry="19" fill="#eeeef0" stroke="#2a2a2e" stroke-width="2.2"/>
<path d="M585.8 1036.8 L595.4 1040.6 L589.4 1052.0 M599.0 1031.1 L594.2 1046.3 L600.2 1050.1" fill="none" stroke="#6a6a70" stroke-width="1.8"/>
<ellipse cx="575.7" cy="1116" rx="15" ry="22" fill="#b4b4b8"/>
<ellipse cx="575.7" cy="1116" rx="12" ry="19" fill="#eeeef0" stroke="#2a2a2e" stroke-width="2.2"/>
<path d="M568.5 1110.3 L578.1 1114.1 L572.1 1125.5 M581.7 1104.6 L576.9 1119.8 L582.9 1123.6" fill="none" stroke="#6a6a70" stroke-width="1.8"/>
<ellipse cx="572.5" cy="1185.5" rx="14" ry="21" fill="#b4b4b8"/>
<ellipse cx="572.5" cy="1185.5" rx="11" ry="18" fill="#eeeef0" stroke="#2a2a2e" stroke-width="2.2"/>
<path d="M565.9 1180.1 L574.7 1183.7 L569.2 1194.5 M578.0 1174.7 L573.6 1189.1 L579.1 1192.7" fill="none" stroke="#6a6a70" stroke-width="1.8"/>
<ellipse cx="1371.4" cy="854.7" rx="13" ry="15" fill="#b4b4b8"/>
<ellipse cx="1371.4" cy="854.7" rx="10" ry="12" fill="#eeeef0" stroke="#2a2a2e" stroke-width="2.2"/>
<path d="M1365.4 851.1 L1373.4 853.5 L1368.4 860.7 M1376.4 847.5 L1372.4 857.1 L1377.4 859.5" fill="none" stroke="#6a6a70" stroke-width="1.8"/>
<ellipse cx="1400.7" cy="904.4" rx="16" ry="17" fill="#b4b4b8"/>
<ellipse cx="1400.7" cy="904.4" rx="13" ry="14" fill="#eeeef0" stroke="#2a2a2e" stroke-width="2.2"/>
<path d="M1392.9 900.2 L1403.3 903.0 L1396.8 911.4 M1407.2 896.0 L1402.0 907.2 L1408.5 910.0" fill="none" stroke="#6a6a70" stroke-width="1.8"/>
<ellipse cx="1432.3" cy="965.3" rx="17" ry="21" fill="#b4b4b8"/>
<ellipse cx="1432.3" cy="965.3" rx="14" ry="18" fill="#eeeef0" stroke="#2a2a2e" stroke-width="2.2"/>
<path d="M1423.9 959.9 L1435.1 963.5 L1428.1 974.3 M1439.3 954.5 L1433.7 968.9 L1440.7 972.5" fill="none" stroke="#6a6a70" stroke-width="1.8"/>
<ellipse cx="1459.4" cy="1037.4" rx="15" ry="22" fill="#b4b4b8"/>
<ellipse cx="1459.4" cy="1037.4" rx="12" ry="19" fill="#eeeef0" stroke="#2a2a2e" stroke-width="2.2"/>
<path d="M1452.2 1031.7 L1461.8 1035.5 L1455.8 1046.9 M1465.4 1026.0 L1460.6 1041.2 L1466.6 1045.0" fill="none" stroke="#6a6a70" stroke-width="1.8"/>
<ellipse cx="1477.4" cy="1116.4" rx="15" ry="22" fill="#b4b4b8"/>
<ellipse cx="1477.4" cy="1116.4" rx="12" ry="19" fill="#eeeef0" stroke="#2a2a2e" stroke-width="2.2"/>
<path d="M1470.2 1110.7 L1479.8 1114.5 L1473.8 1125.9 M1483.4 1105.0 L1478.6 1120.2 L1484.6 1124.0" fill="none" stroke="#6a6a70" stroke-width="1.8"/>
<ellipse cx="1481" cy="1190.7" rx="14" ry="21" fill="#b4b4b8"/>
<ellipse cx="1481" cy="1190.7" rx="11" ry="18" fill="#eeeef0" stroke="#2a2a2e" stroke-width="2.2"/>
<path d="M1474.4 1185.3 L1483.2 1188.9 L1477.7 1199.7 M1486.5 1179.9 L1482.1 1194.3 L1487.6 1197.9" fill="none" stroke="#6a6a70" stroke-width="1.8"/>
<defs>
<linearGradient id="gProng" x1="0" y1="0" x2="1" y2="0"><stop offset="0" stop-color="#5a5a5e"/><stop offset="0.12" stop-color="#bdbdc1"/><stop offset="0.3" stop-color="#e4e4e6"/><stop offset="0.42" stop-color="#8e8e92"/><stop offset="0.5" stop-color="#2e2e32"/><stop offset="0.58" stop-color="#b8b8bc"/><stop offset="0.85" stop-color="#dcdce0"/><stop offset="1" stop-color="#5a5a5e"/></linearGradient>
<linearGradient id="gCS" x1="0" y1="0" x2="0" y2="1"><stop offset="0" stop-color="#f2f4f6"/><stop offset="0.35" stop-color="#ccd0d8"/><stop offset="0.6" stop-color="#e6e8ec"/><stop offset="1" stop-color="#d2d4da"/></linearGradient>
<radialGradient id="gHS" cx="0.5" cy="0.5" r="0.55"><stop offset="0" stop-color="#eeeef2"/><stop offset="0.55" stop-color="#c0c2c8"/><stop offset="1" stop-color="#6a6c72"/></radialGradient>
<linearGradient id="gTube" x1="0" y1="0" x2="0" y2="1"><stop offset="0" stop-color="#a0a0a4"/><stop offset="0.25" stop-color="#f0f0f2"/><stop offset="0.65" stop-color="#d8d8dc"/><stop offset="1" stop-color="#8a8a8e"/></linearGradient>
<linearGradient id="gRim" x1="0" y1="0" x2="0" y2="1"><stop offset="0" stop-color="#b4b4b8"/><stop offset="0.5" stop-color="#e2e2e4"/><stop offset="1" stop-color="#a0a0a4"/></linearGradient>
</defs>
<path d="M858 672 C905 690 950 726 968 758 C974 770 976 777 970 783 L1084 783 C1078 777 1080 770 1086 758 C1104 726 1150 690 1196 674 Z" fill="#d6d6da" stroke="#505054" stroke-width="2.5"/>
<linearGradient id="gV" x1="0" y1="0" x2="0" y2="1"><stop offset="0" stop-color="#6a6a6e"/><stop offset="0.5" stop-color="#8e8e92"/><stop offset="1" stop-color="#b4b4b8"/></linearGradient>
<path d="M985 688 C1002 716 1016 736 1022 772 L1032 772 C1038 736 1052 716 1070 688 Z" fill="url(#gV)"/>
<path d="M990 688 L1066 688 L1027 703 Z" fill="#ffffff"/>
<path d="M1026 705 L1026 772" stroke="#505054" stroke-width="2" stroke-dasharray="2 2"/>
<path d="M905 690 C945 712 966 742 980 776" fill="none" stroke="#f6f6f8" stroke-width="12"/>
<path d="M1146 690 C1106 712 1088 742 1074 776" fill="none" stroke="#f2f2f4" stroke-width="12"/>
<path d="M870 678 C920 698 955 735 972 772" fill="none" stroke="#5a5a5e" stroke-width="3"/>
<path d="M1184 678 C1134 698 1099 735 1082 772" fill="none" stroke="#5a5a5e" stroke-width="3"/>
<path d="M807 612 C808 592 822 572 846 560 C862 548 880 538 900 535 L1153 535 C1173 538 1191 548 1207 560 C1231 572 1245 592 1246 612 C1246 632 1240 648 1226 662 C1210 676 1180 682 1140 686 C1100 689 1060 690 1026.5 690 C993 690 953 689 913 686 C873 682 843 676 827 662 C813 648 807 632 807 612 Z" fill="#dcdce0" stroke="#2e2e32" stroke-width="3"/>
<path d="M809 628 C820 652 850 668 900 678 C950 686 990 687 1026.5 687 C1063 687 1103 686 1153 678 C1203 668 1233 652 1244 628 C1238 648 1222 662 1190 672 C1140 684 1080 688 1026.5 688 C973 688 913 684 863 672 C831 662 815 648 809 628 Z" fill="#e0e0e4"/>
<path d="M818.0 609.4 L818.8 636.4" stroke="#3c3c40" stroke-width="2"/>
<path d="M832.4 619.0 L833.2 647.3" stroke="#3c3c40" stroke-width="2"/>
<path d="M846.8 626.6 L847.6 656.2" stroke="#3c3c40" stroke-width="2"/>
<path d="M861.1 632.6 L861.9 663.3" stroke="#3c3c40" stroke-width="2"/>
<path d="M875.5 637.1 L876.3 668.9" stroke="#3c3c40" stroke-width="2"/>
<path d="M889.9 640.6 L890.7 673.3" stroke="#3c3c40" stroke-width="2"/>
<path d="M904.3 643.0 L905.1 676.6" stroke="#3c3c40" stroke-width="2"/>
<path d="M918.7 644.7 L919.5 679.0" stroke="#3c3c40" stroke-width="2"/>
<path d="M933.0 645.8 L933.8 680.8" stroke="#3c3c40" stroke-width="2"/>
<path d="M947.4 646.5 L948.2 682.0" stroke="#3c3c40" stroke-width="2"/>
<path d="M961.8 646.8 L962.6 682.9" stroke="#3c3c40" stroke-width="2"/>
<path d="M976.2 647.0 L977.0 683.4" stroke="#3c3c40" stroke-width="2"/>
<path d="M990.6 647.0 L991.4 683.7" stroke="#3c3c40" stroke-width="2"/>
<path d="M1004.9 647.0 L1005.7 683.9" stroke="#3c3c40" stroke-width="2"/>
<path d="M1019.3 647.0 L1020.1 684.0" stroke="#3c3c40" stroke-width="2"/>
<path d="M1033.7 647.0 L1034.5 684.0" stroke="#3c3c40" stroke-width="2"/>
<path d="M1048.1 647.0 L1048.9 683.9" stroke="#3c3c40" stroke-width="2"/>
<path d="M1062.4 647.0 L1063.2 683.7" stroke="#3c3c40" stroke-width="2"/>
<path d="M1076.8 647.0 L1077.6 683.4" stroke="#3c3c40" stroke-width="2"/>
<path d="M1091.2 646.8 L1092.0 682.9" stroke="#3c3c40" stroke-width="2"/>
<path d="M1105.6 646.5 L1106.4 682.0" stroke="#3c3c40" stroke-width="2"/>
<path d="M1120.0 645.8 L1120.8 680.8" stroke="#3c3c40" stroke-width="2"/>
<path d="M1134.3 644.7 L1135.1 679.0" stroke="#3c3c40" stroke-width="2"/>
<path d="M1148.7 643.0 L1149.5 676.6" stroke="#3c3c40" stroke-width="2"/>
<path d="M1163.1 640.6 L1163.9 673.3" stroke="#3c3c40" stroke-width="2"/>
<path d="M1177.5 637.1 L1178.3 668.9" stroke="#3c3c40" stroke-width="2"/>
<path d="M1191.9 632.6 L1192.7 663.3" stroke="#3c3c40" stroke-width="2"/>
<path d="M1206.2 626.6 L1207.0 656.2" stroke="#3c3c40" stroke-width="2"/>
<path d="M1220.6 619.0 L1221.4 647.3" stroke="#3c3c40" stroke-width="2"/>
<path d="M1235.0 609.4 L1235.8 636.4" stroke="#3c3c40" stroke-width="2"/>
<circle cx="828" cy="600" r="13" fill="#dcdce0" stroke="#303034" stroke-width="2"/>
<path d="M821.5 600.0 L828.0 593.5 L834.5 600.0 L828.0 606.5 Z" fill="none" stroke="#7a7c82" stroke-width="1.5"/>
<circle cx="850" cy="578" r="15" fill="#dcdce0" stroke="#303034" stroke-width="2"/>
<path d="M842.5 578.0 L850.0 570.5 L857.5 578.0 L850.0 585.5 Z" fill="none" stroke="#7a7c82" stroke-width="1.5"/>
<circle cx="876" cy="560" r="15" fill="#dcdce0" stroke="#303034" stroke-width="2"/>
<path d="M868.5 560.0 L876.0 552.5 L883.5 560.0 L876.0 567.5 Z" fill="none" stroke="#7a7c82" stroke-width="1.5"/>
<circle cx="906" cy="548" r="13" fill="#dcdce0" stroke="#303034" stroke-width="2"/>
<path d="M899.5 548.0 L906.0 541.5 L912.5 548.0 L906.0 554.5 Z" fill="none" stroke="#7a7c82" stroke-width="1.5"/>
<circle cx="1146" cy="548" r="13" fill="#dcdce0" stroke="#303034" stroke-width="2"/>
<path d="M1139.5 548.0 L1146.0 541.5 L1152.5 548.0 L1146.0 554.5 Z" fill="none" stroke="#7a7c82" stroke-width="1.5"/>
<circle cx="1176" cy="560" r="15" fill="#dcdce0" stroke="#303034" stroke-width="2"/>
<path d="M1168.5 560.0 L1176.0 552.5 L1183.5 560.0 L1176.0 567.5 Z" fill="none" stroke="#7a7c82" stroke-width="1.5"/>
<circle cx="1202" cy="578" r="15" fill="#dcdce0" stroke="#303034" stroke-width="2"/>
<path d="M1194.5 578.0 L1202.0 570.5 L1209.5 578.0 L1202.0 585.5 Z" fill="none" stroke="#7a7c82" stroke-width="1.5"/>
<circle cx="1224" cy="600" r="13" fill="#dcdce0" stroke="#303034" stroke-width="2"/>
<path d="M1217.5 600.0 L1224.0 593.5 L1230.5 600.0 L1224.0 606.5 Z" fill="none" stroke="#7a7c82" stroke-width="1.5"/>
<ellipse cx="835" cy="618" rx="16" ry="15" fill="#e8e8ec" stroke="#2e2e32" stroke-width="2.5"/>
<path d="M843.1 621.2 L838.4 625.6 L831.6 625.6 L826.9 621.2 L826.9 614.8 L831.6 610.4 L838.4 610.4 L843.1 614.8 Z" fill="none" stroke="#8a8c92" stroke-width="1.8"/>
<path d="M843.1 621.2 L850.2 618.0 M838.4 625.6 L845.7 628.1 M831.6 625.6 L835.0 632.2 M826.9 621.2 L824.3 628.1 M826.9 614.8 L819.8 618.0 M831.6 610.4 L824.3 607.9 M838.4 610.4 L835.0 603.8 M843.1 614.8 L845.7 607.9 " fill="none" stroke="#9a9ca2" stroke-width="1.5"/>
<path d="M829.4 618.8 L834.2 614.2 L835.8 620.2 Z" fill="#4a4c54"/>
<path d="M838.2 622.5 L843.0 619.5 L842.2 624.8 Z" fill="#6a6c74"/>
<ellipse cx="868" cy="614" rx="27" ry="27" fill="#e8e8ec" stroke="#2e2e32" stroke-width="2.5"/>
<path d="M881.7 619.7 L873.7 627.7 L862.3 627.7 L854.3 619.7 L854.3 608.3 L862.3 600.3 L873.7 600.3 L881.7 608.3 Z" fill="none" stroke="#8a8c92" stroke-width="1.8"/>
<path d="M881.7 619.7 L893.6 614.0 M873.7 627.7 L886.1 632.1 M862.3 627.7 L868.0 639.6 M854.3 619.7 L849.9 632.1 M854.3 608.3 L842.4 614.0 M862.3 600.3 L849.9 595.9 M873.7 600.3 L868.0 588.4 M881.7 608.3 L886.1 595.9 " fill="none" stroke="#9a9ca2" stroke-width="1.5"/>
<path d="M858.5 615.4 L866.6 607.2 L869.4 618.0 Z" fill="#4a4c54"/>
<path d="M873.4 622.1 L881.5 616.7 L880.1 626.1 Z" fill="#6a6c74"/>
<ellipse cx="932" cy="622" rx="32" ry="31" fill="#e8e8ec" stroke="#2e2e32" stroke-width="2.5"/>
<path d="M948.3 628.5 L938.7 637.8 L925.3 637.8 L915.7 628.5 L915.7 615.5 L925.3 606.2 L938.7 606.2 L948.3 615.5 Z" fill="none" stroke="#8a8c92" stroke-width="1.8"/>
<path d="M948.3 628.5 L962.4 622.0 M938.7 637.8 L953.5 642.8 M925.3 637.8 L932.0 651.5 M915.7 628.5 L910.5 642.8 M915.7 615.5 L901.6 622.0 M925.3 606.2 L910.5 601.2 M938.7 606.2 L932.0 592.5 M948.3 615.5 L953.5 601.2 " fill="none" stroke="#9a9ca2" stroke-width="1.5"/>
<path d="M920.8 623.5 L930.4 614.2 L933.6 626.6 Z" fill="#4a4c54"/>
<path d="M938.4 631.3 L948.0 625.1 L946.4 636.0 Z" fill="#6a6c74"/>
<ellipse cx="1032" cy="622" rx="40" ry="36" fill="#e8e8ec" stroke="#2e2e32" stroke-width="2.5"/>
<path d="M1052.3 629.6 L1040.4 640.3 L1023.6 640.3 L1011.7 629.6 L1011.7 614.4 L1023.6 603.7 L1040.4 603.7 L1052.3 614.4 Z" fill="none" stroke="#8a8c92" stroke-width="1.8"/>
<path d="M1052.3 629.6 L1070.0 622.0 M1040.4 640.3 L1058.9 646.2 M1023.6 640.3 L1032.0 656.2 M1011.7 629.6 L1005.1 646.2 M1011.7 614.4 L994.0 622.0 M1023.6 603.7 L1005.1 597.8 M1040.4 603.7 L1032.0 587.8 M1052.3 614.4 L1058.9 597.8 " fill="none" stroke="#9a9ca2" stroke-width="1.5"/>
<path d="M1018.0 623.8 L1030.0 613.0 L1034.0 627.4 Z" fill="#4a4c54"/>
<path d="M1040.0 632.8 L1052.0 625.6 L1050.0 638.2 Z" fill="#6a6c74"/>
<ellipse cx="1122" cy="621" rx="35" ry="32" fill="#e8e8ec" stroke="#2e2e32" stroke-width="2.5"/>
<path d="M1139.8 627.7 L1129.4 637.3 L1114.6 637.3 L1104.2 627.7 L1104.2 614.3 L1114.6 604.7 L1129.4 604.7 L1139.8 614.3 Z" fill="none" stroke="#8a8c92" stroke-width="1.8"/>
<path d="M1139.8 627.7 L1155.2 621.0 M1129.4 637.3 L1145.5 642.5 M1114.6 637.3 L1122.0 651.4 M1104.2 627.7 L1098.5 642.5 M1104.2 614.3 L1088.8 621.0 M1114.6 604.7 L1098.5 599.5 M1129.4 604.7 L1122.0 590.6 M1139.8 614.3 L1145.5 599.5 " fill="none" stroke="#9a9ca2" stroke-width="1.5"/>
<path d="M1109.8 622.6 L1120.2 613.0 L1123.8 625.8 Z" fill="#4a4c54"/>
<path d="M1129.0 630.6 L1139.5 624.2 L1137.8 635.4 Z" fill="#6a6c74"/>
<ellipse cx="1188" cy="613" rx="26" ry="27" fill="#e8e8ec" stroke="#2e2e32" stroke-width="2.5"/>
<path d="M1201.2 618.7 L1193.5 626.7 L1182.5 626.7 L1174.8 618.7 L1174.8 607.3 L1182.5 599.3 L1193.5 599.3 L1201.2 607.3 Z" fill="none" stroke="#8a8c92" stroke-width="1.8"/>
<path d="M1201.2 618.7 L1212.7 613.0 M1193.5 626.7 L1205.5 631.1 M1182.5 626.7 L1188.0 638.6 M1174.8 618.7 L1170.5 631.1 M1174.8 607.3 L1163.3 613.0 M1182.5 599.3 L1170.5 594.9 M1193.5 599.3 L1188.0 587.4 M1201.2 607.3 L1205.5 594.9 " fill="none" stroke="#9a9ca2" stroke-width="1.5"/>
<path d="M1178.9 614.4 L1186.7 606.2 L1189.3 617.0 Z" fill="#4a4c54"/>
<path d="M1193.2 621.1 L1201.0 615.7 L1199.7 625.1 Z" fill="#6a6c74"/>
<ellipse cx="1221" cy="618" rx="16" ry="15" fill="#e8e8ec" stroke="#2e2e32" stroke-width="2.5"/>
<path d="M1229.1 621.2 L1224.4 625.6 L1217.6 625.6 L1212.9 621.2 L1212.9 614.8 L1217.6 610.4 L1224.4 610.4 L1229.1 614.8 Z" fill="none" stroke="#8a8c92" stroke-width="1.8"/>
<path d="M1229.1 621.2 L1236.2 618.0 M1224.4 625.6 L1231.7 628.1 M1217.6 625.6 L1221.0 632.2 M1212.9 621.2 L1210.3 628.1 M1212.9 614.8 L1205.8 618.0 M1217.6 610.4 L1210.3 607.9 M1224.4 610.4 L1221.0 603.8 M1229.1 614.8 L1231.7 607.9 " fill="none" stroke="#9a9ca2" stroke-width="1.5"/>
<path d="M1215.4 618.8 L1220.2 614.2 L1221.8 620.2 Z" fill="#4a4c54"/>
<path d="M1224.2 622.5 L1229.0 619.5 L1228.2 624.8 Z" fill="#6a6c74"/>
<rect x="843" y="598" width="14" height="62" rx="7" fill="#e4e4e8" stroke="#38383c" stroke-width="2"/>
<line x1="851" y1="606" x2="851" y2="654" stroke="#6a6a6e" stroke-width="2"/>
<rect x="893" y="602" width="14" height="66" rx="7" fill="#e4e4e8" stroke="#38383c" stroke-width="2"/>
<line x1="901" y1="610" x2="901" y2="662" stroke="#6a6a6e" stroke-width="2"/>
<rect x="959" y="610" width="14" height="66" rx="7" fill="#e4e4e8" stroke="#38383c" stroke-width="2"/>
<line x1="967" y1="618" x2="967" y2="670" stroke="#6a6a6e" stroke-width="2"/>
<rect x="997" y="640" width="14" height="50" rx="7" fill="#e4e4e8" stroke="#38383c" stroke-width="2"/>
<line x1="1005" y1="648" x2="1005" y2="684" stroke="#6a6a6e" stroke-width="2"/>
<rect x="1051" y="640" width="14" height="50" rx="7" fill="#e4e4e8" stroke="#38383c" stroke-width="2"/>
<line x1="1059" y1="648" x2="1059" y2="684" stroke="#6a6a6e" stroke-width="2"/>
<rect x="1083" y="610" width="14" height="66" rx="7" fill="#e4e4e8" stroke="#38383c" stroke-width="2"/>
<line x1="1091" y1="618" x2="1091" y2="670" stroke="#6a6a6e" stroke-width="2"/>
<rect x="1149" y="602" width="14" height="66" rx="7" fill="#e4e4e8" stroke="#38383c" stroke-width="2"/>
<line x1="1157" y1="610" x2="1157" y2="662" stroke="#6a6a6e" stroke-width="2"/>
<rect x="1197" y="598" width="14" height="62" rx="7" fill="#e4e4e8" stroke="#38383c" stroke-width="2"/>
<line x1="1205" y1="606" x2="1205" y2="654" stroke="#6a6a6e" stroke-width="2"/>
<path d="M928 550 L1128 550 C1134 558 1136 570 1132 582 C1100 590 960 590 924 582 C920 570 922 558 928 550 Z" fill="#d4d4d8" stroke="#404044" stroke-width="2"/>
<path d="M942 562 L1114 562" stroke="#505054" stroke-width="4" stroke-dasharray="5 6"/>
<path d="M1026 570 L1026 590" stroke="#404044" stroke-width="3"/>
<path d="M927 474 C936 454 958 440 985 435 C1005 432 1048 432 1068 435 C1094 440 1114 452 1122 468 L1128 556 L928 556 Z" fill="url(#gCS)" stroke="#5e6066" stroke-width="2.5"/>
<path d="M958 446 L1000 458 L1052 458 L1094 446" fill="none" stroke="#8c9098" stroke-width="2.5"/>
<path d="M936 472 L1000 458 L985 500 L940 512" fill="none" stroke="#8c9098" stroke-width="2.5"/>
<path d="M1116 472 L1052 458 L1068 500 L1112 512" fill="none" stroke="#8c9098" stroke-width="2.5"/>
<path d="M985 500 L1026 478 L1068 500 L1026 522 Z" fill="none" stroke="#8c9098" stroke-width="2.5"/>
<path d="M940 512 L985 500 L1000 540 L1026 522 L1052 540 L1068 500 L1112 512" fill="none" stroke="#8c9098" stroke-width="2.5"/>
<path d="M945 553 L1000 540 L1026 556 L1052 540 L1108 553" fill="none" stroke="#8c9098" stroke-width="2.5"/>
<path d="M934 530 L1118 530" fill="none" stroke="#8c9098" stroke-width="2.5"/>
<path d="M960 480 L982 498 L962 506 Z" fill="#555a64"/>
<path d="M1000 484 L1018 500 L1004 512 Z" fill="#555a64"/>
<path d="M1070 482 L1092 500 L1074 508 Z" fill="#555a64"/>
<path d="M1004 540 L1020 552 L1000 555 Z" fill="#555a64"/>
<path d="M950 520 L968 532 L948 540 Z" fill="#555a64"/>
<path d="M1086 520 L1104 534 L1084 542 Z" fill="#555a64"/>
<path d="M990 470 L1040 470 L1030 490 L1000 492 Z" fill="#f4f4f6"/>
<linearGradient id="gPr2" x1="0" y1="0" x2="1" y2="0"><stop offset="0" stop-color="#9c9ca0"/><stop offset="0.2" stop-color="#e6e6e8"/><stop offset="0.45" stop-color="#cfcfd3"/><stop offset="0.7" stop-color="#e2e2e4"/><stop offset="1" stop-color="#a4a4a8"/></linearGradient>
<path d="M903 560 L903 464 C903 452 912 445 926 445 C940 445 950 452 950 464 L950 560 Z" fill="url(#gPr2)" stroke="#2e2e32" stroke-width="2.5"/>
<path d="M905 462 C908 450 918 446 926 446 C938 446 946 450 948 460" fill="none" stroke="#4a4a4e" stroke-width="3"/>
<path d="M1103 560 L1103 464 C1103 452 1112 445 1126 445 C1140 445 1150 452 1150 464 L1150 560 Z" fill="url(#gPr2)" stroke="#2e2e32" stroke-width="2.5"/>
<path d="M1105 460 C1108 450 1116 446 1126 446 C1138 446 1146 450 1148 462" fill="none" stroke="#4a4a4e" stroke-width="3"/>
<path d="M896 570 L896 494 C896 480 908 473 925 473 C944 473 954 480 954 496 L954 556 C954 568 947 576 935 580 L912 586 C902 582 896 578 896 570 Z" fill="url(#gPr2)" stroke="#262628" stroke-width="3"/>
<path d="M899 490 C904 478 915 475 925 475 C940 475 950 480 952 492" fill="none" stroke="#48484c" stroke-width="4"/>
<path d="M924 488 C922 520 924 548 934 570" fill="none" stroke="#1e1e22" stroke-width="3.5"/>
<path d="M1157 570 L1157 494 C1157 480 1145 473 1128 473 C1109 473 1099 480 1099 496 L1099 556 C1099 568 1106 576 1118 580 L1141 586 C1151 582 1157 578 1157 570 Z" fill="url(#gPr2)" stroke="#262628" stroke-width="3"/>
<path d="M1154 490 C1149 478 1138 475 1128 475 C1113 475 1103 480 1101 492" fill="none" stroke="#48484c" stroke-width="4"/>
<path d="M1129 488 C1131 520 1129 548 1119 570" fill="none" stroke="#1e1e22" stroke-width="3.5"/>
<g><path d="M664 822 L664 776 C664 766 670 762 678 762 C690 762 700 766 706 752 C708 738 710 725 716 714 C724 696 740 676 760 660 C766 652 770 648 774 644 C780 636 790 634 800 636 C820 646 836 664 846 690 C852 710 852 735 846 758 C840 774 828 784 816 790 C806 797 800 800 790 800 L700 826 Z" fill="#cfcfd3" stroke="#2e2e32" stroke-width="2.5"/><path d="M790 648 C818 664 838 692 840 722 C842 744 834 764 820 778" fill="none" stroke="#eeeef0" stroke-width="8"/><path d="M780 660 C805 676 824 700 826 726 C828 746 822 760 812 770" fill="none" stroke="#505054" stroke-width="2.5"/><ellipse cx="758" cy="696" rx="40" ry="24" transform="rotate(-38 758 696)" fill="url(#gHS)" stroke="#2e2e32" stroke-width="2.5"/><path d="M735 710 L752 680 L778 690 L762 716 Z" fill="none" stroke="#505258" stroke-width="2"/><path d="M752 690 L760 682 L764 700 Z" fill="#3a3c42"/><path d="M772 705 L788 700 L808 760 L792 764 Z" fill="#d8d8dc" stroke="#2e2e32" stroke-width="2"/><path d="M798 728 L812 726 L814 748 L802 746 Z" fill="#ffffff" stroke="#505054" stroke-width="1.5"/><ellipse cx="712" cy="756" rx="30" ry="20" transform="rotate(-50 712 756)" fill="url(#gHS)" stroke="#2e2e32" stroke-width="2.5"/><path d="M664 822 L664 778 C664 766 672 761 680 761 C692 761 700 768 700 780 L702 826 Z" fill="#dcdce0" stroke="#2e2e32" stroke-width="2.5"/><path d="M716 714 C745 720 781 738 805 756 C818 766 822 778 818 788 C812 794 800 792 792 786 C768 770 735 752 710 730 C705 722 708 714 716 714 Z" fill="url(#gTube)" stroke="#2e2e32" stroke-width="2.5"/><path d="M718 770 C740 782 770 792 796 798" fill="none" stroke="#3a3a3e" stroke-width="2"/><ellipse cx="757" cy="787" rx="12" ry="6" transform="rotate(20 757 787)" fill="#ffffff" stroke="#505054" stroke-width="1.5"/></g>
<g transform="translate(2052,0) scale(-1,1)"><path d="M664 822 L664 776 C664 766 670 762 678 762 C690 762 700 766 706 752 C708 738 710 725 716 714 C724 696 740 676 760 660 C766 652 770 648 774 644 C780 636 790 634 800 636 C820 646 836 664 846 690 C852 710 852 735 846 758 C840 774 828 784 816 790 C806 797 800 800 790 800 L700 826 Z" fill="#cfcfd3" stroke="#2e2e32" stroke-width="2.5"/><path d="M790 648 C818 664 838 692 840 722 C842 744 834 764 820 778" fill="none" stroke="#eeeef0" stroke-width="8"/><path d="M780 660 C805 676 824 700 826 726 C828 746 822 760 812 770" fill="none" stroke="#505054" stroke-width="2.5"/><ellipse cx="758" cy="696" rx="40" ry="24" transform="rotate(-38 758 696)" fill="url(#gHS)" stroke="#2e2e32" stroke-width="2.5"/><path d="M735 710 L752 680 L778 690 L762 716 Z" fill="none" stroke="#505258" stroke-width="2"/><path d="M752 690 L760 682 L764 700 Z" fill="#3a3c42"/><path d="M772 705 L788 700 L808 760 L792 764 Z" fill="#d8d8dc" stroke="#2e2e32" stroke-width="2"/><path d="M798 728 L812 726 L814 748 L802 746 Z" fill="#ffffff" stroke="#505054" stroke-width="1.5"/><ellipse cx="712" cy="756" rx="30" ry="20" transform="rotate(-50 712 756)" fill="url(#gHS)" stroke="#2e2e32" stroke-width="2.5"/><path d="M664 822 L664 778 C664 766 672 761 680 761 C692 761 700 768 700 780 L702 826 Z" fill="#dcdce0" stroke="#2e2e32" stroke-width="2.5"/><path d="M716 714 C745 720 781 738 805 756 C818 766 822 778 818 788 C812 794 800 792 792 786 C768 770 735 752 710 730 C705 722 708 714 716 714 Z" fill="url(#gTube)" stroke="#2e2e32" stroke-width="2.5"/><path d="M718 770 C740 782 770 792 796 798" fill="none" stroke="#3a3a3e" stroke-width="2"/><ellipse cx="757" cy="787" rx="12" ry="6" transform="rotate(20 757 787)" fill="#ffffff" stroke="#505054" stroke-width="1.5"/></g></g>
<g fill="none" stroke="#0a0a0a" stroke-width="3.2" stroke-linejoin="miter" stroke-linecap="butt">
<path d="M1028.0 268.0 L1028.0 316.0"/>
<path d="M893.0 384.0 L893.0 316.0 L1161.0 316.0 L1161.0 384.0"/>
<path d="M461.0 390.5 L810.0 390.5 L954.0 428.0"/>
<path d="M412.5 520.4 L896.5 520.4"/>
<path d="M413.8 656.0 L679.0 656.0 L729.6 676.8"/>
<path d="M416.0 800.4 L614.6 800.4 L730.5 778.3"/>
<path d="M416.0 1013.7 L825.3 1013.7 L956.0 836.4"/>
<path d="M416.0 1160.3 L585.0 1160.3"/>
<path d="M416.0 1387.4 L780.6 1387.4 L806.3 1477.6"/>
<path d="M1625.4 460.2 L1371.4 460.2 L1228.4 572.0"/>
<path d="M1305.0 607.0 L1376.0 613.0 L1455.0 745.7 L1534.7 889.5 L1510.0 956.0"/>
<path d="M1455.0 745.7 L1627.7 745.7"/>
<path d="M1625.4 992.3 L1224.8 992.3 L1016.3 747.9"/>
<path d="M1504.5 1118.5 L1625.4 1118.5"/>
<path d="M1421.0 1307.0 L1582.5 1307.0"/>
<path d="M715.0 1579.7 L764.7 1676.7 L1281.6 1676.7 L1331.2 1579.7"/>
<path d="M1028.2 1676.7 L1028.2 1725.6"/>
</g>
<g class="lab" fill="#0a0a0a" stroke="#0a0a0a" stroke-width="1.4">
<text x="962.0" y="246.0" font-size="53.2" textLength="131.0" lengthAdjust="spacing">Head</text>
<text x="102.8" y="402.3" font-size="53.2" textLength="336.8" lengthAdjust="spacing">Center Stone</text>
<text x="214.7" y="528.6" font-size="53.2" textLength="178.3" lengthAdjust="spacing">Prongs</text>
<text x="93.8" y="668.6" font-size="51.0" textLength="299.8" lengthAdjust="spacing">Side Stones</text>
<text x="103.7" y="809.8" font-size="51.0" textLength="289.9" lengthAdjust="spacing">Gallery Rail</text>
<text x="224.6" y="1028.0" font-size="53.8" textLength="168.6" lengthAdjust="spacing">Bridge</text>
<text x="217.8" y="1176.0" font-size="52.3" textLength="154.2" lengthAdjust="spacing">Shank</text>
<text x="144.8" y="1402.3" font-size="53.2" textLength="248.8" lengthAdjust="spacing">Hallmarks</text>
<text x="1651.4" y="477.7" font-size="51.0" textLength="113.6" lengthAdjust="spacing">Halo</text>
<text x="1652.7" y="761.5" font-size="52.5" textLength="252.9" lengthAdjust="spacing">Shoulders</text>
<text x="1652.7" y="1003.6" font-size="51.2" textLength="179.0" lengthAdjust="spacing">Gallery</text>
<text x="1643.7" y="1129.6" font-size="52.5" textLength="368.0" lengthAdjust="spacing">Accent Stones</text>
<text x="1607.0" y="1323.6" font-size="51.2" textLength="402.9" lengthAdjust="spacing">Embellishments</text>
<text x="883.0" y="1781.2" font-size="52.6" textLength="290.6" lengthAdjust="spacing">Sizing Area</text>
</g>
<text class="logo" transform="translate(1543.8 1890.1) scale(1.17 1)" x="0" y="0" font-size="49" fill="#3b3637" stroke="#3b3637" stroke-width="0.9">G</text>
<text class="logo" transform="translate(1591.3 1890.1) scale(1.19 1)" x="0" y="0" font-size="49" fill="#3b3637" stroke="#3b3637" stroke-width="0.9">A</text>
<text class="logo" transform="translate(1645.8 1890.1) scale(1.19 1)" x="0" y="0" font-size="49" fill="#3b3637" stroke="#3b3637" stroke-width="0.9">B</text>
<text class="logo" transform="translate(1694.8 1890.1) scale(1.2 1)" x="0" y="0" font-size="49" fill="#3b3637" stroke="#3b3637" stroke-width="0.9">R</text>
<text class="logo" transform="translate(1744.8 1890.1) scale(1.0 1)" x="0" y="0" font-size="49" fill="#3b3637" stroke="#3b3637" stroke-width="0.9">I</text>
<text class="logo" transform="translate(1771.8 1890.1) scale(1.11 1)" x="0" y="0" font-size="49" fill="#3b3637" stroke="#3b3637" stroke-width="0.9">E</text>
<text class="logo" transform="translate(1815.2 1890.1) scale(1.15 1)" x="0" y="0" font-size="49" fill="#3b3637" stroke="#3b3637" stroke-width="0.9">L</text>
<text class="logo" transform="translate(1863.8 1890.1) scale(0.93 1)" x="0" y="0" font-size="49" fill="#3b3637" stroke="#3b3637" stroke-width="0.9">&amp;</text>
<text class="logo" transform="translate(1911.3 1890.1) scale(1.18 1)" x="0" y="0" font-size="49" fill="#3b3637" stroke="#3b3637" stroke-width="0.9">C</text>
<text class="logo" transform="translate(1955.8 1890.1) scale(1.27 1)" x="0" y="0" font-size="49" fill="#3b3637" stroke="#3b3637" stroke-width="0.9">O</text>
<text class="logo" transform="translate(2004.8 1890.1) scale(1.1 1)" x="0" y="0" font-size="49" fill="#3b3637" stroke="#3b3637" stroke-width="0.9">.</text>
</svg></body></html>
